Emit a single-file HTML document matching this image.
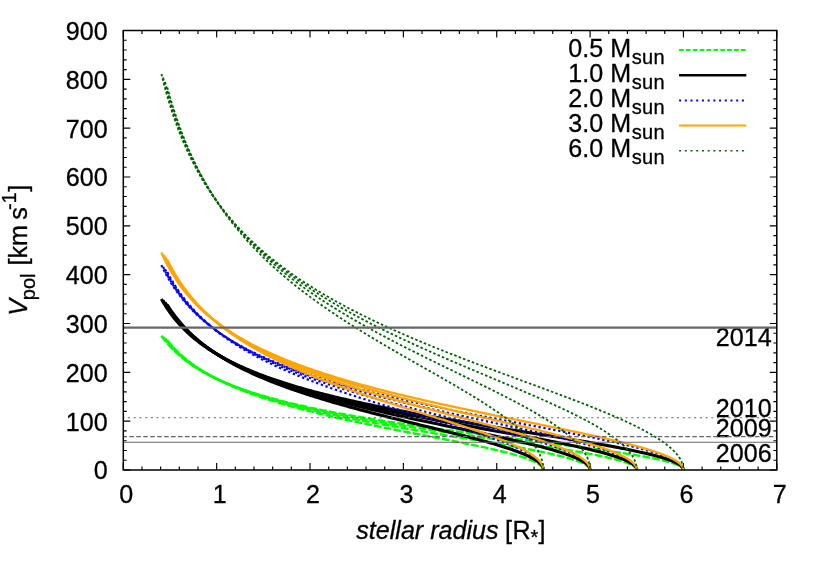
<!DOCTYPE html><html><head><meta charset="utf-8"><style>html,body{margin:0;padding:0;background:#fff}svg{display:block;will-change:transform}text{font-family:"Liberation Sans",sans-serif;fill:#000;stroke:#000;stroke-width:0.3px}</style></head><body>
<svg width="822" height="576" viewBox="0 0 822 576">
<rect width="822" height="576" fill="#fff"/>
<path d="M123.30 470.00h7.00 M776.80 470.00h-7.00 M123.30 460.23h3.40 M776.80 460.23h-3.40 M123.30 450.47h3.40 M776.80 450.47h-3.40 M123.30 440.70h3.40 M776.80 440.70h-3.40 M123.30 430.93h3.40 M776.80 430.93h-3.40 M123.30 421.17h7.00 M776.80 421.17h-7.00 M123.30 411.40h3.40 M776.80 411.40h-3.40 M123.30 401.63h3.40 M776.80 401.63h-3.40 M123.30 391.87h3.40 M776.80 391.87h-3.40 M123.30 382.10h3.40 M776.80 382.10h-3.40 M123.30 372.33h7.00 M776.80 372.33h-7.00 M123.30 362.57h3.40 M776.80 362.57h-3.40 M123.30 352.80h3.40 M776.80 352.80h-3.40 M123.30 343.03h3.40 M776.80 343.03h-3.40 M123.30 333.27h3.40 M776.80 333.27h-3.40 M123.30 323.50h7.00 M776.80 323.50h-7.00 M123.30 313.73h3.40 M776.80 313.73h-3.40 M123.30 303.97h3.40 M776.80 303.97h-3.40 M123.30 294.20h3.40 M776.80 294.20h-3.40 M123.30 284.43h3.40 M776.80 284.43h-3.40 M123.30 274.67h7.00 M776.80 274.67h-7.00 M123.30 264.90h3.40 M776.80 264.90h-3.40 M123.30 255.13h3.40 M776.80 255.13h-3.40 M123.30 245.37h3.40 M776.80 245.37h-3.40 M123.30 235.60h3.40 M776.80 235.60h-3.40 M123.30 225.83h7.00 M776.80 225.83h-7.00 M123.30 216.07h3.40 M776.80 216.07h-3.40 M123.30 206.30h3.40 M776.80 206.30h-3.40 M123.30 196.53h3.40 M776.80 196.53h-3.40 M123.30 186.77h3.40 M776.80 186.77h-3.40 M123.30 177.00h7.00 M776.80 177.00h-7.00 M123.30 167.23h3.40 M776.80 167.23h-3.40 M123.30 157.47h3.40 M776.80 157.47h-3.40 M123.30 147.70h3.40 M776.80 147.70h-3.40 M123.30 137.93h3.40 M776.80 137.93h-3.40 M123.30 128.17h7.00 M776.80 128.17h-7.00 M123.30 118.40h3.40 M776.80 118.40h-3.40 M123.30 108.63h3.40 M776.80 108.63h-3.40 M123.30 98.87h3.40 M776.80 98.87h-3.40 M123.30 89.10h3.40 M776.80 89.10h-3.40 M123.30 79.33h7.00 M776.80 79.33h-7.00 M123.30 69.57h3.40 M776.80 69.57h-3.40 M123.30 59.80h3.40 M776.80 59.80h-3.40 M123.30 50.03h3.40 M776.80 50.03h-3.40 M123.30 40.27h3.40 M776.80 40.27h-3.40 M123.30 30.50h7.00 M776.80 30.50h-7.00 M123.30 470.00v-7.00 M123.30 30.50v7.00 M141.97 470.00v-3.40 M141.97 30.50v3.40 M160.64 470.00v-3.40 M160.64 30.50v3.40 M179.31 470.00v-3.40 M179.31 30.50v3.40 M197.99 470.00v-3.40 M197.99 30.50v3.40 M216.66 470.00v-7.00 M216.66 30.50v7.00 M235.33 470.00v-3.40 M235.33 30.50v3.40 M254.00 470.00v-3.40 M254.00 30.50v3.40 M272.67 470.00v-3.40 M272.67 30.50v3.40 M291.34 470.00v-3.40 M291.34 30.50v3.40 M310.01 470.00v-7.00 M310.01 30.50v7.00 M328.69 470.00v-3.40 M328.69 30.50v3.40 M347.36 470.00v-3.40 M347.36 30.50v3.40 M366.03 470.00v-3.40 M366.03 30.50v3.40 M384.70 470.00v-3.40 M384.70 30.50v3.40 M403.37 470.00v-7.00 M403.37 30.50v7.00 M422.04 470.00v-3.40 M422.04 30.50v3.40 M440.71 470.00v-3.40 M440.71 30.50v3.40 M459.39 470.00v-3.40 M459.39 30.50v3.40 M478.06 470.00v-3.40 M478.06 30.50v3.40 M496.73 470.00v-7.00 M496.73 30.50v7.00 M515.40 470.00v-3.40 M515.40 30.50v3.40 M534.07 470.00v-3.40 M534.07 30.50v3.40 M552.74 470.00v-3.40 M552.74 30.50v3.40 M571.41 470.00v-3.40 M571.41 30.50v3.40 M590.09 470.00v-7.00 M590.09 30.50v7.00 M608.76 470.00v-3.40 M608.76 30.50v3.40 M627.43 470.00v-3.40 M627.43 30.50v3.40 M646.10 470.00v-3.40 M646.10 30.50v3.40 M664.77 470.00v-3.40 M664.77 30.50v3.40 M683.44 470.00v-7.00 M683.44 30.50v7.00 M702.11 470.00v-3.40 M702.11 30.50v3.40 M720.79 470.00v-3.40 M720.79 30.50v3.40 M739.46 470.00v-3.40 M739.46 30.50v3.40 M758.13 470.00v-3.40 M758.13 30.50v3.40 M776.80 470.00v-7.00 M776.80 30.50v7.00" stroke="#000" stroke-width="1.15" fill="none"/>
<text transform="translate(107.60,479.35) scale(1,1.045)" font-size="25.10" text-anchor="end">0</text>
<text transform="translate(107.60,430.52) scale(1,1.045)" font-size="25.10" text-anchor="end">100</text>
<text transform="translate(107.60,381.68) scale(1,1.045)" font-size="25.10" text-anchor="end">200</text>
<text transform="translate(107.60,332.85) scale(1,1.045)" font-size="25.10" text-anchor="end">300</text>
<text transform="translate(107.60,284.02) scale(1,1.045)" font-size="25.10" text-anchor="end">400</text>
<text transform="translate(107.60,235.18) scale(1,1.045)" font-size="25.10" text-anchor="end">500</text>
<text transform="translate(107.60,186.35) scale(1,1.045)" font-size="25.10" text-anchor="end">600</text>
<text transform="translate(107.60,137.52) scale(1,1.045)" font-size="25.10" text-anchor="end">700</text>
<text transform="translate(107.60,88.68) scale(1,1.045)" font-size="25.10" text-anchor="end">800</text>
<text transform="translate(107.60,39.85) scale(1,1.045)" font-size="25.10" text-anchor="end">900</text>
<text transform="translate(126.30,503.20) scale(1,1.045)" font-size="25.10" text-anchor="middle">0</text>
<text transform="translate(219.66,503.20) scale(1,1.045)" font-size="25.10" text-anchor="middle">1</text>
<text transform="translate(313.01,503.20) scale(1,1.045)" font-size="25.10" text-anchor="middle">2</text>
<text transform="translate(406.37,503.20) scale(1,1.045)" font-size="25.10" text-anchor="middle">3</text>
<text transform="translate(499.73,503.20) scale(1,1.045)" font-size="25.10" text-anchor="middle">4</text>
<text transform="translate(593.09,503.20) scale(1,1.045)" font-size="25.10" text-anchor="middle">5</text>
<text transform="translate(686.44,503.20) scale(1,1.045)" font-size="25.10" text-anchor="middle">6</text>
<text transform="translate(779.80,503.20) scale(1,1.045)" font-size="25.10" text-anchor="middle">7</text>
<text transform="translate(771.60,346.00) scale(1,1.045)" font-size="25.10" text-anchor="end">2014</text>
<text transform="translate(771.60,417.30) scale(1,1.045)" font-size="25.10" text-anchor="end">2010</text>
<text transform="translate(771.60,437.30) scale(1,1.045)" font-size="25.10" text-anchor="end">2009</text>
<text transform="translate(771.60,461.70) scale(1,1.045)" font-size="25.10" text-anchor="end">2006</text>
<g fill="none">
<path d="M167.31 340.26 L168.48 341.71 L169.65 343.13 L170.84 344.51 L172.03 345.86 L173.24 347.19 L174.46 348.48 L175.68 349.75 L176.92 350.99 L178.16 352.21 L179.42 353.40 L180.68 354.57 L181.95 355.72 L183.23 356.84 L184.53 357.95 L185.83 359.03 L187.14 360.09 L188.46 361.14 L189.78 362.17 L191.12 363.18 L192.47 364.17 L193.82 365.14 L195.18 366.10 L196.55 367.05 L197.93 367.98 L199.32 368.89 L200.72 369.79 L202.13 370.68 L203.54 371.56 L204.96 372.42 L206.39 373.27 L207.83 374.10 L209.28 374.93 L210.74 375.74 L212.20 376.55 L213.67 377.34 L215.15 378.12 L216.64 378.89 L218.14 379.65 L219.64 380.41 L221.15 381.15 L222.67 381.88 L224.20 382.61 L225.73 383.32 L227.27 384.03 L228.82 384.73 L230.38 385.42 L231.95 386.10 L233.52 386.78 L235.10 387.45 L236.69 388.11 L238.28 388.77 L239.89 389.41 L241.50 390.05 L243.11 390.69 L244.74 391.32 L246.37 391.94 L248.01 392.55 L249.66 393.16 L251.31 393.77 L252.97 394.37 L254.64 394.96 L256.32 395.55 L258.00 396.13 L259.69 396.71 L261.38 397.28 L263.09 397.85 L264.80 398.41 L266.51 398.97 L268.24 399.52 L269.97 400.07 L271.71 400.61 L273.45 401.15 L275.20 401.69 L276.96 402.22 L278.72 402.75 L280.50 403.27 L282.27 403.79 L284.06 404.31 L285.85 404.82 L287.65 405.33 L289.45 405.84 L291.26 406.34 L293.08 406.84 L294.91 407.34 L296.74 407.83 L298.57 408.32 L300.42 408.81 L302.27 409.29 L304.12 409.78 L305.99 410.26 L307.86 410.73 L309.73 411.20 L311.61 411.68 L313.50 412.14 L315.40 412.61 L317.30 413.07 L319.20 413.54 L321.12 413.99 L323.03 414.45 L324.96 414.91 L326.89 415.36 L328.83 415.81 L330.77 416.26 L332.72 416.71 L334.68 417.15 L336.64 417.60 L338.61 418.04 L340.58 418.48 L342.56 418.92 L344.55 419.35 L346.54 419.79 L348.54 420.22 L350.54 420.66 L352.55 421.09 L354.57 421.52 L356.59 421.95 L358.62 422.37 L360.65 422.80 L362.69 423.23 L364.73 423.65 L366.78 424.08 L368.84 424.50 L370.90 424.92 L372.97 425.34 L375.04 425.76 L377.12 426.18 L379.21 426.60 L381.30 427.02 L383.40 427.44 L385.50 427.86 L387.60 428.28 L389.72 428.69 L391.84 429.11 L393.96 429.53 L396.09 429.95 L398.23 430.36 L400.37 430.78 L402.51 431.20 L404.67 431.62 L406.82 432.03 L408.99 432.45 L411.16 432.87 L413.33 433.29 L415.51 433.71 L417.69 434.13 L419.89 434.55 L422.08 434.98 L424.28 435.40 L426.49 435.82 L428.70 436.25 L430.92 436.67 L433.14 437.10 L435.37 437.53 L437.60 437.96 L439.84 438.40 L442.08 438.83 L444.33 439.27 L446.59 439.71 L448.85 440.15 L451.11 440.59 L453.38 441.04 L455.66 441.49 L457.94 441.94 L460.22 442.39 L462.51 442.85 L464.81 443.31 L467.11 443.78 L469.42 444.25 L471.73 444.73 L474.05 445.21 L476.37 445.69 L478.69 446.18 L481.03 446.68 L483.36 447.18 L485.71 447.69 L488.05 448.21 L490.40 448.73 L492.76 449.26 L495.12 449.81 L497.49 450.36 L499.86 450.92 L502.24 451.50 L504.62 452.09 L507.01 452.69 L509.40 453.32 L511.80 453.96 L514.20 454.62 L516.61 455.30 L519.02 456.01 L519.14 456.05 L519.38 456.12 L519.62 456.20 L519.86 456.27 L520.10 456.34 L520.33 456.41 L520.57 456.49 L520.80 456.56 L521.04 456.63 L521.27 456.71 L521.44 456.76 L521.50 456.78 L521.73 456.85 L521.95 456.92 L522.18 456.99 L522.41 457.07 L522.63 457.14 L522.85 457.21 L523.08 457.28 L523.30 457.36 L523.52 457.43 L523.74 457.50 L523.86 457.54 L523.95 457.57 L524.17 457.64 L524.38 457.72 L524.60 457.79 L524.81 457.86 L525.02 457.93 L525.23 458.00 L525.44 458.08 L525.65 458.15 L525.86 458.22 L526.06 458.29 L526.27 458.36 L526.29 458.37 L526.47 458.43 L526.67 458.51 L526.87 458.58 L527.07 458.65 L527.27 458.72 L527.47 458.79 L527.67 458.86 L527.86 458.94 L528.05 459.01 L528.25 459.08 L528.44 459.15 L528.63 459.22 L528.72 459.25 L528.82 459.29 L529.00 459.36 L529.19 459.43 L529.38 459.50 L529.56 459.58 L529.74 459.65 L529.93 459.72 L530.11 459.79 L530.29 459.86 L530.46 459.93 L530.64 460.00 L530.82 460.07 L530.99 460.14 L531.15 460.21 L531.16 460.21 L531.34 460.29 L531.51 460.36 L531.68 460.43 L531.85 460.50 L532.01 460.57 L532.18 460.64 L532.34 460.71 L532.51 460.78 L532.67 460.85 L532.83 460.92 L532.99 460.99 L533.15 461.06 L533.31 461.13 L533.47 461.20 L533.59 461.26 L533.62 461.27 L533.78 461.34 L533.93 461.41 L534.08 461.48 L534.23 461.55 L534.38 461.62 L534.53 461.69 L534.67 461.76 L534.82 461.83 L534.96 461.90 L535.11 461.98 L535.25 462.05 L535.39 462.12 L535.53 462.19 L535.67 462.26 L535.81 462.33 L535.94 462.40 L536.04 462.45 L536.08 462.47 L536.21 462.54 L536.34 462.61 L536.47 462.67 L536.60 462.74 L536.73 462.81 L536.86 462.88 L536.99 462.95 L537.11 463.02 L537.23 463.09 L537.36 463.16 L537.48 463.23 L537.60 463.30 L537.72 463.37 L537.83 463.44 L537.95 463.51 L538.07 463.58 L538.18 463.65 L538.29 463.72 L538.40 463.79 L538.49 463.84 L538.51 463.86 L538.62 463.93 L538.73 464.00 L538.84 464.07 L538.94 464.14 L539.05 464.21 L539.15 464.28 L539.25 464.35 L539.35 464.42 L539.45 464.48 L539.55 464.55 L539.65 464.62 L539.74 464.69 L539.84 464.76 L539.93 464.83 L540.02 464.90 L540.11 464.97 L540.20 465.04 L540.29 465.11 L540.38 465.18 L540.46 465.25 L540.55 465.32 L540.63 465.39 L540.71 465.45 L540.80 465.52 L540.87 465.59 L540.95 465.66 L540.95 465.66 L541.03 465.73 L541.11 465.80 L541.18 465.87 L541.25 465.94 L541.33 466.01 L541.40 466.08 L541.47 466.15 L541.54 466.21 L541.60 466.28 L541.67 466.35 L541.73 466.42 L541.80 466.49 L541.86 466.56 L541.92 466.63 L541.98 466.70 L542.04 466.77 L542.10 466.84 L542.15 466.90 L542.21 466.97 L542.26 467.04 L542.32 467.11 L542.37 467.18 L542.42 467.25 L542.47 467.32 L542.51 467.39 L542.56 467.46 L542.61 467.52 L542.65 467.59 L542.69 467.66 L542.73 467.73 L542.77 467.80 L542.81 467.87 L542.85 467.94 L542.89 468.01 L542.92 468.08 L542.96 468.14 L542.99 468.21 L543.02 468.28 L543.05 468.35 L543.08 468.42 L543.11 468.49 L543.13 468.56 L543.16 468.63 L543.18 468.69 L543.21 468.76 L543.23 468.83 L543.25 468.90 L543.27 468.97 L543.29 469.04 L543.30 469.11 L543.32 469.18 L543.33 469.24 L543.35 469.31 L543.36 469.38 L543.37 469.45 L543.38 469.52 L543.38 469.59 L543.39 469.66 L543.40 469.73 L543.40 469.79 L543.40 469.86 L543.41 469.93 L543.41 470.00" stroke="#00ff00" stroke-width="2.4" stroke-dasharray="7.7 2.2" stroke-linejoin="round"/>
<path d="M165.05 338.42 L166.32 340.05 L167.59 341.64 L168.88 343.18 L170.19 344.69 L171.50 346.16 L172.83 347.59 L174.17 348.99 L175.52 350.35 L176.88 351.69 L178.25 352.99 L179.64 354.27 L181.03 355.51 L182.44 356.73 L183.86 357.93 L185.29 359.10 L186.73 360.24 L188.19 361.37 L189.65 362.47 L191.12 363.55 L192.61 364.61 L194.10 365.65 L195.61 366.67 L197.13 367.67 L198.66 368.66 L200.19 369.63 L201.74 370.58 L203.30 371.51 L204.87 372.43 L206.45 373.34 L208.04 374.23 L209.63 375.11 L211.24 375.97 L212.86 376.82 L214.49 377.66 L216.13 378.48 L217.78 379.29 L219.43 380.10 L221.10 380.89 L222.78 381.67 L224.46 382.43 L226.16 383.19 L227.86 383.94 L229.58 384.68 L231.30 385.41 L233.03 386.13 L234.78 386.84 L236.53 387.54 L238.29 388.23 L240.06 388.92 L241.83 389.59 L243.62 390.26 L245.42 390.92 L247.22 391.58 L249.03 392.22 L250.86 392.86 L252.69 393.50 L254.53 394.12 L256.38 394.74 L258.23 395.35 L260.10 395.96 L261.97 396.56 L263.85 397.16 L265.75 397.75 L267.64 398.33 L269.55 398.91 L271.47 399.48 L273.39 400.05 L275.32 400.61 L277.27 401.16 L279.21 401.72 L281.17 402.26 L283.14 402.81 L285.11 403.35 L287.09 403.88 L289.08 404.41 L291.08 404.93 L293.08 405.46 L295.10 405.97 L297.12 406.49 L299.15 407.00 L301.18 407.50 L303.23 408.00 L305.28 408.50 L307.34 409.00 L309.41 409.49 L311.48 409.98 L313.57 410.46 L315.66 410.94 L317.76 411.42 L319.86 411.90 L321.98 412.37 L324.10 412.84 L326.23 413.31 L328.36 413.77 L330.51 414.23 L332.66 414.69 L334.81 415.15 L336.98 415.61 L339.15 416.06 L341.33 416.51 L343.52 416.96 L345.72 417.40 L347.92 417.84 L350.13 418.29 L352.34 418.73 L354.57 419.16 L356.80 419.60 L359.04 420.03 L361.28 420.46 L363.53 420.89 L365.79 421.32 L368.06 421.75 L370.33 422.18 L372.61 422.60 L374.90 423.02 L377.19 423.44 L379.50 423.87 L381.80 424.28 L384.12 424.70 L386.44 425.12 L388.77 425.53 L391.10 425.95 L393.45 426.36 L395.80 426.78 L398.15 427.19 L400.51 427.60 L402.88 428.01 L405.26 428.42 L407.64 428.83 L410.03 429.24 L412.43 429.65 L414.83 430.06 L417.24 430.46 L419.66 430.87 L422.08 431.28 L424.51 431.69 L426.94 432.09 L429.39 432.50 L431.83 432.91 L434.29 433.31 L436.75 433.72 L439.22 434.13 L441.69 434.54 L444.17 434.95 L446.66 435.36 L449.16 435.77 L451.66 436.18 L454.16 436.59 L456.68 437.00 L459.19 437.42 L461.72 437.83 L464.25 438.25 L466.79 438.66 L469.33 439.08 L471.89 439.50 L474.44 439.92 L477.01 440.35 L479.57 440.77 L482.15 441.20 L484.73 441.63 L487.32 442.06 L489.91 442.50 L492.51 442.94 L495.12 443.38 L497.73 443.82 L500.35 444.27 L502.97 444.72 L505.61 445.18 L508.24 445.64 L510.88 446.10 L513.53 446.57 L516.19 447.04 L518.85 447.52 L521.51 448.01 L524.19 448.50 L526.87 449.00 L529.55 449.51 L532.24 450.02 L534.94 450.55 L537.64 451.08 L540.35 451.63 L543.06 452.18 L545.78 452.75 L548.51 453.33 L551.24 453.93 L553.98 454.55 L556.72 455.19 L559.47 455.85 L562.22 456.54 L562.36 456.57 L562.64 456.64 L562.91 456.71 L563.18 456.78 L563.45 456.85 L563.72 456.92 L563.99 456.99 L564.26 457.06 L564.52 457.13 L564.79 457.20 L564.98 457.25 L565.05 457.27 L565.31 457.34 L565.57 457.41 L565.83 457.48 L566.09 457.55 L566.35 457.62 L566.60 457.69 L566.86 457.76 L567.11 457.83 L567.36 457.90 L567.61 457.97 L567.75 458.01 L567.86 458.04 L568.11 458.11 L568.35 458.18 L568.60 458.25 L568.84 458.32 L569.08 458.38 L569.32 458.45 L569.56 458.52 L569.80 458.59 L570.03 458.66 L570.27 458.73 L570.50 458.80 L570.52 458.81 L570.73 458.87 L570.96 458.94 L571.19 459.01 L571.42 459.07 L571.65 459.14 L571.87 459.21 L572.10 459.28 L572.32 459.35 L572.54 459.42 L572.76 459.49 L572.98 459.56 L573.20 459.62 L573.30 459.66 L573.41 459.69 L573.63 459.76 L573.84 459.83 L574.05 459.90 L574.26 459.97 L574.47 460.04 L574.68 460.10 L574.89 460.17 L575.09 460.24 L575.30 460.31 L575.50 460.38 L575.70 460.45 L575.90 460.51 L576.08 460.58 L576.10 460.58 L576.29 460.65 L576.49 460.72 L576.68 460.79 L576.87 460.85 L577.07 460.92 L577.26 460.99 L577.44 461.06 L577.63 461.13 L577.82 461.19 L578.00 461.26 L578.18 461.33 L578.37 461.40 L578.55 461.47 L578.73 461.53 L578.87 461.59 L578.90 461.60 L579.08 461.67 L579.25 461.74 L579.43 461.80 L579.60 461.87 L579.77 461.94 L579.94 462.01 L580.11 462.07 L580.27 462.14 L580.44 462.21 L580.60 462.28 L580.76 462.34 L580.92 462.41 L581.08 462.48 L581.24 462.55 L581.40 462.61 L581.55 462.68 L581.67 462.73 L581.71 462.75 L581.86 462.82 L582.01 462.88 L582.16 462.95 L582.31 463.02 L582.46 463.09 L582.60 463.15 L582.75 463.22 L582.89 463.29 L583.03 463.35 L583.17 463.42 L583.31 463.49 L583.45 463.56 L583.58 463.62 L583.72 463.69 L583.85 463.76 L583.98 463.82 L584.11 463.89 L584.24 463.96 L584.37 464.02 L584.47 464.08 L584.49 464.09 L584.62 464.16 L584.74 464.23 L584.86 464.29 L584.99 464.36 L585.10 464.43 L585.22 464.49 L585.34 464.56 L585.45 464.63 L585.57 464.69 L585.68 464.76 L585.79 464.83 L585.90 464.89 L586.01 464.96 L586.11 465.03 L586.22 465.09 L586.32 465.16 L586.42 465.23 L586.53 465.29 L586.62 465.36 L586.72 465.43 L586.82 465.49 L586.91 465.56 L587.01 465.63 L587.10 465.69 L587.19 465.76 L587.27 465.82 L587.28 465.83 L587.37 465.89 L587.46 465.96 L587.54 466.03 L587.63 466.09 L587.71 466.16 L587.79 466.22 L587.87 466.29 L587.95 466.36 L588.02 466.42 L588.10 466.49 L588.17 466.56 L588.25 466.62 L588.32 466.69 L588.39 466.76 L588.46 466.82 L588.52 466.89 L588.59 466.96 L588.65 467.02 L588.72 467.09 L588.78 467.15 L588.84 467.22 L588.90 467.29 L588.95 467.35 L589.01 467.42 L589.06 467.49 L589.12 467.55 L589.17 467.62 L589.22 467.68 L589.27 467.75 L589.32 467.82 L589.36 467.88 L589.41 467.95 L589.45 468.02 L589.49 468.08 L589.53 468.15 L589.57 468.21 L589.61 468.28 L589.64 468.35 L589.68 468.41 L589.71 468.48 L589.74 468.55 L589.77 468.61 L589.80 468.68 L589.83 468.74 L589.86 468.81 L589.88 468.88 L589.90 468.94 L589.93 469.01 L589.95 469.07 L589.97 469.14 L589.98 469.21 L590.00 469.27 L590.01 469.34 L590.03 469.40 L590.04 469.47 L590.05 469.54 L590.06 469.60 L590.07 469.67 L590.07 469.74 L590.08 469.80 L590.08 469.87 L590.09 469.93 L590.09 470.00" stroke="#00ff00" stroke-width="2.4" stroke-dasharray="7.7 2.2" stroke-linejoin="round"/>
<path d="M163.11 336.93 L164.47 338.75 L165.84 340.50 L167.23 342.21 L168.63 343.86 L170.05 345.47 L171.48 347.03 L172.92 348.55 L174.38 350.04 L175.86 351.48 L177.35 352.89 L178.85 354.26 L180.36 355.60 L181.89 356.91 L183.44 358.19 L184.99 359.43 L186.56 360.65 L188.14 361.85 L189.74 363.01 L191.35 364.16 L192.97 365.28 L194.60 366.37 L196.25 367.45 L197.91 368.50 L199.58 369.54 L201.26 370.55 L202.96 371.54 L204.66 372.52 L206.38 373.48 L208.11 374.42 L209.86 375.35 L211.61 376.26 L213.38 377.15 L215.16 378.03 L216.95 378.90 L218.75 379.75 L220.56 380.59 L222.39 381.41 L224.22 382.22 L226.07 383.02 L227.93 383.81 L229.80 384.59 L231.68 385.36 L233.57 386.11 L235.47 386.86 L237.38 387.59 L239.30 388.31 L241.24 389.03 L243.18 389.73 L245.14 390.43 L247.10 391.12 L249.08 391.80 L251.07 392.47 L253.06 393.13 L255.07 393.79 L257.09 394.43 L259.12 395.07 L261.15 395.70 L263.20 396.33 L265.26 396.95 L267.33 397.56 L269.41 398.16 L271.49 398.76 L273.59 399.35 L275.70 399.94 L277.82 400.52 L279.94 401.10 L282.08 401.66 L284.23 402.23 L286.38 402.79 L288.55 403.34 L290.72 403.89 L292.91 404.43 L295.10 404.97 L297.30 405.50 L299.51 406.03 L301.74 406.55 L303.97 407.07 L306.21 407.59 L308.46 408.10 L310.71 408.61 L312.98 409.11 L315.26 409.61 L317.54 410.10 L319.84 410.59 L322.14 411.08 L324.46 411.57 L326.78 412.05 L329.11 412.53 L331.45 413.00 L333.80 413.47 L336.15 413.94 L338.52 414.41 L340.89 414.87 L343.27 415.33 L345.67 415.78 L348.07 416.24 L350.47 416.69 L352.89 417.14 L355.32 417.59 L357.75 418.03 L360.19 418.47 L362.65 418.91 L365.11 419.35 L367.57 419.78 L370.05 420.21 L372.53 420.64 L375.03 421.07 L377.53 421.50 L380.04 421.93 L382.55 422.35 L385.08 422.77 L387.61 423.19 L390.16 423.61 L392.71 424.02 L395.26 424.44 L397.83 424.85 L400.40 425.26 L402.99 425.68 L405.58 426.08 L408.17 426.49 L410.78 426.90 L413.39 427.31 L416.02 427.71 L418.65 428.12 L421.28 428.52 L423.93 428.92 L426.58 429.32 L429.24 429.72 L431.91 430.12 L434.59 430.52 L437.27 430.92 L439.96 431.32 L442.66 431.72 L445.37 432.12 L448.08 432.52 L450.80 432.91 L453.53 433.31 L456.27 433.71 L459.02 434.10 L461.77 434.50 L464.53 434.90 L467.30 435.30 L470.07 435.69 L472.85 436.09 L475.64 436.49 L478.44 436.89 L481.24 437.29 L484.05 437.69 L486.87 438.09 L489.70 438.49 L492.53 438.90 L495.37 439.30 L498.22 439.71 L501.08 440.11 L503.94 440.52 L506.81 440.93 L509.68 441.34 L512.57 441.76 L515.46 442.17 L518.36 442.59 L521.26 443.01 L524.17 443.43 L527.09 443.85 L530.02 444.28 L532.95 444.71 L535.89 445.15 L538.84 445.58 L541.80 446.03 L544.76 446.47 L547.73 446.92 L550.70 447.37 L553.68 447.83 L556.67 448.30 L559.67 448.77 L562.67 449.25 L565.68 449.73 L568.70 450.22 L571.72 450.72 L574.75 451.22 L577.79 451.74 L580.83 452.27 L583.88 452.80 L586.94 453.35 L590.00 453.92 L593.08 454.50 L596.15 455.09 L599.24 455.71 L602.33 456.35 L605.43 457.01 L605.58 457.04 L605.89 457.11 L606.20 457.18 L606.50 457.25 L606.81 457.32 L607.11 457.38 L607.41 457.45 L607.71 457.52 L608.01 457.59 L608.31 457.65 L608.53 457.70 L608.61 457.72 L608.90 457.79 L609.19 457.86 L609.49 457.92 L609.78 457.99 L610.06 458.06 L610.35 458.13 L610.64 458.19 L610.92 458.26 L611.20 458.33 L611.48 458.39 L611.64 458.43 L611.76 458.46 L612.04 458.53 L612.32 458.60 L612.59 458.66 L612.86 458.73 L613.14 458.80 L613.41 458.86 L613.68 458.93 L613.94 459.00 L614.21 459.06 L614.47 459.13 L614.74 459.20 L614.76 459.20 L615.00 459.26 L615.26 459.33 L615.51 459.40 L615.77 459.46 L616.03 459.53 L616.28 459.60 L616.53 459.66 L616.78 459.73 L617.03 459.79 L617.28 459.86 L617.52 459.93 L617.77 459.99 L617.88 460.02 L618.01 460.06 L618.25 460.13 L618.49 460.19 L618.73 460.26 L618.97 460.32 L619.20 460.39 L619.44 460.46 L619.67 460.52 L619.90 460.59 L620.13 460.65 L620.35 460.72 L620.58 460.79 L620.80 460.85 L621.01 460.91 L621.03 460.92 L621.25 460.98 L621.47 461.05 L621.69 461.11 L621.90 461.18 L622.12 461.25 L622.33 461.31 L622.54 461.38 L622.75 461.44 L622.96 461.51 L623.17 461.57 L623.38 461.64 L623.58 461.70 L623.78 461.77 L623.99 461.83 L624.15 461.89 L624.18 461.90 L624.38 461.97 L624.58 462.03 L624.77 462.10 L624.97 462.16 L625.16 462.23 L625.35 462.29 L625.54 462.36 L625.73 462.42 L625.91 462.49 L626.10 462.55 L626.28 462.62 L626.46 462.68 L626.64 462.75 L626.82 462.81 L626.99 462.88 L627.17 462.94 L627.29 462.99 L627.34 463.01 L627.51 463.07 L627.68 463.14 L627.85 463.20 L628.02 463.27 L628.18 463.33 L628.35 463.40 L628.51 463.46 L628.67 463.53 L628.83 463.59 L628.99 463.66 L629.14 463.72 L629.30 463.79 L629.45 463.85 L629.60 463.91 L629.75 463.98 L629.90 464.04 L630.04 464.11 L630.19 464.17 L630.33 464.24 L630.44 464.29 L630.47 464.30 L630.62 464.37 L630.75 464.43 L630.89 464.50 L631.03 464.56 L631.16 464.62 L631.29 464.69 L631.42 464.75 L631.55 464.82 L631.68 464.88 L631.81 464.95 L631.93 465.01 L632.05 465.08 L632.18 465.14 L632.30 465.20 L632.41 465.27 L632.53 465.33 L632.65 465.40 L632.76 465.46 L632.87 465.53 L632.98 465.59 L633.09 465.65 L633.20 465.72 L633.30 465.78 L633.41 465.85 L633.51 465.91 L633.60 465.97 L633.61 465.98 L633.71 466.04 L633.81 466.10 L633.90 466.17 L634.00 466.23 L634.09 466.30 L634.18 466.36 L634.27 466.42 L634.36 466.49 L634.45 466.55 L634.53 466.62 L634.61 466.68 L634.70 466.74 L634.78 466.81 L634.86 466.87 L634.93 466.94 L635.01 467.00 L635.08 467.06 L635.15 467.13 L635.22 467.19 L635.29 467.26 L635.36 467.32 L635.43 467.38 L635.49 467.45 L635.55 467.51 L635.62 467.58 L635.68 467.64 L635.73 467.70 L635.79 467.77 L635.84 467.83 L635.90 467.89 L635.95 467.96 L636.00 468.02 L636.05 468.09 L636.10 468.15 L636.14 468.21 L636.18 468.28 L636.23 468.34 L636.27 468.41 L636.31 468.47 L636.34 468.53 L636.38 468.60 L636.41 468.66 L636.45 468.72 L636.48 468.79 L636.51 468.85 L636.53 468.92 L636.56 468.98 L636.59 469.04 L636.61 469.11 L636.63 469.17 L636.65 469.23 L636.67 469.30 L636.68 469.36 L636.70 469.43 L636.71 469.49 L636.73 469.55 L636.74 469.62 L636.74 469.68 L636.75 469.74 L636.76 469.81 L636.76 469.87 L636.76 469.94 L636.76 470.00" stroke="#00ff00" stroke-width="2.4" stroke-dasharray="7.7 2.2" stroke-linejoin="round"/>
<path d="M161.41 335.71 L162.86 337.70 L164.32 339.62 L165.80 341.48 L167.30 343.28 L168.82 345.02 L170.35 346.72 L171.90 348.36 L173.46 349.95 L175.05 351.50 L176.64 353.00 L178.26 354.47 L179.89 355.89 L181.54 357.28 L183.20 358.63 L184.88 359.95 L186.57 361.24 L188.28 362.50 L190.00 363.72 L191.74 364.92 L193.49 366.09 L195.26 367.24 L197.04 368.36 L198.84 369.46 L200.65 370.53 L202.48 371.59 L204.32 372.62 L206.17 373.63 L208.04 374.62 L209.92 375.60 L211.82 376.55 L213.73 377.49 L215.65 378.41 L217.59 379.31 L219.53 380.20 L221.50 381.07 L223.47 381.93 L225.46 382.78 L227.46 383.61 L229.48 384.42 L231.51 385.23 L233.55 386.02 L235.60 386.80 L237.66 387.57 L239.74 388.32 L241.83 389.07 L243.94 389.80 L246.05 390.53 L248.18 391.24 L250.32 391.94 L252.47 392.64 L254.63 393.33 L256.81 394.00 L259.00 394.67 L261.20 395.33 L263.41 395.98 L265.63 396.62 L267.86 397.26 L270.11 397.89 L272.37 398.51 L274.64 399.12 L276.92 399.73 L279.21 400.33 L281.51 400.92 L283.83 401.51 L286.15 402.09 L288.49 402.66 L290.83 403.23 L293.19 403.80 L295.56 404.35 L297.94 404.90 L300.33 405.45 L302.74 405.99 L305.15 406.53 L307.57 407.06 L310.01 407.58 L312.45 408.10 L314.91 408.62 L317.37 409.13 L319.85 409.64 L322.34 410.14 L324.83 410.64 L327.34 411.14 L329.86 411.63 L332.39 412.12 L334.93 412.60 L337.47 413.08 L340.03 413.56 L342.60 414.03 L345.18 414.50 L347.77 414.96 L350.37 415.43 L352.98 415.89 L355.60 416.34 L358.23 416.80 L360.86 417.25 L363.51 417.70 L366.17 418.14 L368.84 418.58 L371.52 419.02 L374.20 419.46 L376.90 419.90 L379.61 420.33 L382.32 420.76 L385.05 421.19 L387.78 421.61 L390.53 422.03 L393.28 422.46 L396.05 422.88 L398.82 423.29 L401.60 423.71 L404.39 424.12 L407.19 424.53 L410.00 424.94 L412.82 425.35 L415.65 425.76 L418.49 426.17 L421.33 426.57 L424.19 426.97 L427.05 427.37 L429.93 427.77 L432.81 428.17 L435.70 428.57 L438.60 428.97 L441.51 429.36 L444.43 429.76 L447.36 430.15 L450.30 430.54 L453.24 430.93 L456.19 431.33 L459.16 431.72 L462.13 432.11 L465.11 432.49 L468.10 432.88 L471.09 433.27 L474.10 433.66 L477.11 434.05 L480.14 434.44 L483.17 434.82 L486.21 435.21 L489.26 435.60 L492.32 435.98 L495.38 436.37 L498.46 436.76 L501.54 437.15 L504.63 437.54 L507.73 437.92 L510.84 438.31 L513.95 438.70 L517.08 439.09 L520.21 439.48 L523.35 439.88 L526.50 440.27 L529.66 440.66 L532.82 441.06 L536.00 441.46 L539.18 441.86 L542.37 442.26 L545.57 442.66 L548.77 443.06 L551.99 443.47 L555.21 443.87 L558.44 444.28 L561.68 444.70 L564.92 445.11 L568.18 445.53 L571.44 445.95 L574.71 446.38 L577.99 446.80 L581.28 447.24 L584.57 447.67 L587.87 448.11 L591.18 448.56 L594.50 449.01 L597.82 449.46 L601.16 449.93 L604.50 450.39 L607.85 450.87 L611.20 451.35 L614.57 451.84 L617.94 452.34 L621.32 452.85 L624.71 453.37 L628.10 453.91 L631.50 454.45 L634.91 455.01 L638.33 455.59 L641.76 456.19 L645.19 456.80 L648.63 457.44 L648.80 457.48 L649.14 457.54 L649.49 457.61 L649.83 457.67 L650.17 457.74 L650.50 457.81 L650.84 457.87 L651.17 457.94 L651.50 458.00 L651.83 458.07 L652.08 458.11 L652.16 458.13 L652.49 458.20 L652.81 458.26 L653.14 458.33 L653.46 458.39 L653.78 458.46 L654.10 458.52 L654.42 458.59 L654.73 458.65 L655.05 458.72 L655.36 458.78 L655.53 458.82 L655.67 458.85 L655.98 458.91 L656.28 458.98 L656.59 459.04 L656.89 459.11 L657.19 459.17 L657.49 459.24 L657.79 459.30 L658.09 459.36 L658.38 459.43 L658.68 459.49 L658.97 459.56 L658.99 459.56 L659.26 459.62 L659.55 459.69 L659.83 459.75 L660.12 459.82 L660.40 459.88 L660.68 459.94 L660.96 460.01 L661.24 460.07 L661.52 460.14 L661.79 460.20 L662.07 460.26 L662.34 460.33 L662.47 460.36 L662.61 460.39 L662.88 460.46 L663.14 460.52 L663.41 460.58 L663.67 460.65 L663.93 460.71 L664.19 460.78 L664.45 460.84 L664.70 460.90 L664.96 460.97 L665.21 461.03 L665.46 461.09 L665.71 461.16 L665.94 461.22 L665.96 461.22 L666.21 461.29 L666.45 461.35 L666.69 461.41 L666.93 461.48 L667.17 461.54 L667.41 461.60 L667.64 461.67 L667.88 461.73 L668.11 461.79 L668.34 461.86 L668.57 461.92 L668.80 461.98 L669.02 462.05 L669.24 462.11 L669.43 462.16 L669.47 462.17 L669.69 462.24 L669.90 462.30 L670.12 462.36 L670.34 462.42 L670.55 462.49 L670.76 462.55 L670.97 462.61 L671.18 462.68 L671.38 462.74 L671.59 462.80 L671.79 462.87 L671.99 462.93 L672.19 462.99 L672.39 463.05 L672.59 463.12 L672.78 463.18 L672.92 463.23 L672.97 463.24 L673.16 463.31 L673.35 463.37 L673.54 463.43 L673.72 463.49 L673.91 463.56 L674.09 463.62 L674.27 463.68 L674.45 463.74 L674.63 463.81 L674.80 463.87 L674.97 463.93 L675.15 463.99 L675.32 464.06 L675.48 464.12 L675.65 464.18 L675.81 464.24 L675.98 464.31 L676.14 464.37 L676.30 464.43 L676.42 464.48 L676.45 464.49 L676.61 464.56 L676.76 464.62 L676.92 464.68 L677.07 464.74 L677.22 464.81 L677.36 464.87 L677.51 464.93 L677.65 464.99 L677.79 465.06 L677.93 465.12 L678.07 465.18 L678.21 465.24 L678.34 465.30 L678.48 465.37 L678.61 465.43 L678.74 465.49 L678.87 465.55 L678.99 465.61 L679.12 465.68 L679.24 465.74 L679.36 465.80 L679.48 465.86 L679.60 465.92 L679.71 465.99 L679.83 466.05 L679.93 466.11 L679.94 466.11 L680.05 466.17 L680.16 466.23 L680.26 466.30 L680.37 466.36 L680.47 466.42 L680.57 466.48 L680.67 466.54 L680.77 466.61 L680.87 466.67 L680.96 466.73 L681.05 466.79 L681.15 466.85 L681.23 466.92 L681.32 466.98 L681.41 467.04 L681.49 467.10 L681.57 467.16 L681.65 467.22 L681.73 467.29 L681.81 467.35 L681.88 467.41 L681.96 467.47 L682.03 467.53 L682.10 467.60 L682.17 467.66 L682.23 467.72 L682.30 467.78 L682.36 467.84 L682.42 467.90 L682.48 467.97 L682.54 468.03 L682.59 468.09 L682.65 468.15 L682.70 468.21 L682.75 468.27 L682.80 468.34 L682.85 468.40 L682.89 468.46 L682.93 468.52 L682.98 468.58 L683.02 468.64 L683.05 468.71 L683.09 468.77 L683.12 468.83 L683.16 468.89 L683.19 468.95 L683.22 469.01 L683.24 469.08 L683.27 469.14 L683.29 469.20 L683.32 469.26 L683.34 469.32 L683.35 469.38 L683.37 469.45 L683.39 469.51 L683.40 469.57 L683.41 469.63 L683.42 469.69 L683.43 469.75 L683.43 469.82 L683.44 469.88 L683.44 469.94 L683.44 470.00" stroke="#00ff00" stroke-width="2.4" stroke-dasharray="7.7 2.2" stroke-linejoin="round"/>
<path d="M167.31 304.88 L168.48 306.72 L169.65 308.53 L170.84 310.29 L172.03 312.01 L173.24 313.69 L174.46 315.34 L175.68 316.96 L176.92 318.54 L178.16 320.09 L179.42 321.60 L180.68 323.09 L181.95 324.55 L183.23 325.98 L184.53 327.39 L185.83 328.76 L187.14 330.12 L188.46 331.45 L189.78 332.76 L191.12 334.04 L192.47 335.30 L193.82 336.55 L195.18 337.77 L196.55 338.97 L197.93 340.15 L199.32 341.32 L200.72 342.47 L202.13 343.60 L203.54 344.71 L204.96 345.80 L206.39 346.89 L207.83 347.95 L209.28 349.00 L210.74 350.04 L212.20 351.06 L213.67 352.07 L215.15 353.06 L216.64 354.04 L218.14 355.01 L219.64 355.97 L221.15 356.92 L222.67 357.85 L224.20 358.77 L225.73 359.68 L227.27 360.58 L228.82 361.47 L230.38 362.35 L231.95 363.22 L233.52 364.08 L235.10 364.94 L236.69 365.78 L238.28 366.61 L239.89 367.44 L241.50 368.25 L243.11 369.06 L244.74 369.86 L246.37 370.65 L248.01 371.43 L249.66 372.21 L251.31 372.98 L252.97 373.74 L254.64 374.49 L256.32 375.24 L258.00 375.98 L259.69 376.72 L261.38 377.45 L263.09 378.17 L264.80 378.88 L266.51 379.59 L268.24 380.30 L269.97 381.00 L271.71 381.69 L273.45 382.38 L275.20 383.06 L276.96 383.74 L278.72 384.41 L280.50 385.08 L282.27 385.74 L284.06 386.40 L285.85 387.05 L287.65 387.70 L289.45 388.34 L291.26 388.98 L293.08 389.62 L294.91 390.25 L296.74 390.88 L298.57 391.50 L300.42 392.12 L302.27 392.74 L304.12 393.35 L305.99 393.96 L307.86 394.57 L309.73 395.17 L311.61 395.77 L313.50 396.37 L315.40 396.96 L317.30 397.55 L319.20 398.14 L321.12 398.72 L323.03 399.30 L324.96 399.88 L326.89 400.46 L328.83 401.03 L330.77 401.60 L332.72 402.17 L334.68 402.74 L336.64 403.30 L338.61 403.87 L340.58 404.43 L342.56 404.98 L344.55 405.54 L346.54 406.09 L348.54 406.65 L350.54 407.20 L352.55 407.75 L354.57 408.29 L356.59 408.84 L358.62 409.39 L360.65 409.93 L362.69 410.47 L364.73 411.01 L366.78 411.55 L368.84 412.09 L370.90 412.63 L372.97 413.16 L375.04 413.70 L377.12 414.23 L379.21 414.77 L381.30 415.30 L383.40 415.83 L385.50 416.37 L387.60 416.90 L389.72 417.43 L391.84 417.96 L393.96 418.49 L396.09 419.02 L398.23 419.55 L400.37 420.09 L402.51 420.62 L404.67 421.15 L406.82 421.68 L408.99 422.21 L411.16 422.75 L413.33 423.28 L415.51 423.81 L417.69 424.35 L419.89 424.89 L422.08 425.42 L424.28 425.96 L426.49 426.50 L428.70 427.04 L430.92 427.59 L433.14 428.13 L435.37 428.68 L437.60 429.23 L439.84 429.78 L442.08 430.33 L444.33 430.89 L446.59 431.44 L448.85 432.01 L451.11 432.57 L453.38 433.14 L455.66 433.71 L457.94 434.29 L460.22 434.86 L462.51 435.45 L464.81 436.04 L467.11 436.63 L469.42 437.23 L471.73 437.83 L474.05 438.44 L476.37 439.06 L478.69 439.68 L481.03 440.32 L483.36 440.96 L485.71 441.60 L488.05 442.26 L490.40 442.93 L492.76 443.61 L495.12 444.30 L497.49 445.00 L499.86 445.72 L502.24 446.45 L504.62 447.20 L507.01 447.97 L509.40 448.76 L511.80 449.58 L514.20 450.42 L516.61 451.29 L519.02 452.20 L519.14 452.25 L519.38 452.34 L519.62 452.43 L519.86 452.52 L520.10 452.62 L520.33 452.71 L520.57 452.80 L520.80 452.89 L521.04 452.99 L521.27 453.08 L521.44 453.15 L521.50 453.17 L521.73 453.26 L521.95 453.36 L522.18 453.45 L522.41 453.54 L522.63 453.63 L522.85 453.72 L523.08 453.82 L523.30 453.91 L523.52 454.00 L523.74 454.09 L523.86 454.14 L523.95 454.18 L524.17 454.28 L524.38 454.37 L524.60 454.46 L524.81 454.55 L525.02 454.64 L525.23 454.73 L525.44 454.82 L525.65 454.92 L525.86 455.01 L526.06 455.10 L526.27 455.19 L526.29 455.20 L526.47 455.28 L526.67 455.37 L526.87 455.46 L527.07 455.55 L527.27 455.64 L527.47 455.74 L527.67 455.83 L527.86 455.92 L528.05 456.01 L528.25 456.10 L528.44 456.19 L528.63 456.28 L528.72 456.32 L528.82 456.37 L529.00 456.46 L529.19 456.55 L529.38 456.64 L529.56 456.73 L529.74 456.82 L529.93 456.91 L530.11 457.00 L530.29 457.09 L530.46 457.18 L530.64 457.27 L530.82 457.37 L530.99 457.46 L531.15 457.54 L531.16 457.55 L531.34 457.64 L531.51 457.73 L531.68 457.82 L531.85 457.91 L532.01 458.00 L532.18 458.09 L532.34 458.18 L532.51 458.26 L532.67 458.35 L532.83 458.44 L532.99 458.53 L533.15 458.62 L533.31 458.71 L533.47 458.80 L533.59 458.88 L533.62 458.89 L533.78 458.98 L533.93 459.07 L534.08 459.16 L534.23 459.25 L534.38 459.34 L534.53 459.43 L534.67 459.52 L534.82 459.61 L534.96 459.70 L535.11 459.79 L535.25 459.88 L535.39 459.96 L535.53 460.05 L535.67 460.14 L535.81 460.23 L535.94 460.32 L536.04 460.39 L536.08 460.41 L536.21 460.50 L536.34 460.59 L536.47 460.68 L536.60 460.77 L536.73 460.86 L536.86 460.94 L536.99 461.03 L537.11 461.12 L537.23 461.21 L537.36 461.30 L537.48 461.39 L537.60 461.48 L537.72 461.57 L537.83 461.65 L537.95 461.74 L538.07 461.83 L538.18 461.92 L538.29 462.01 L538.40 462.10 L538.49 462.17 L538.51 462.19 L538.62 462.27 L538.73 462.36 L538.84 462.45 L538.94 462.54 L539.05 462.63 L539.15 462.72 L539.25 462.80 L539.35 462.89 L539.45 462.98 L539.55 463.07 L539.65 463.16 L539.74 463.25 L539.84 463.33 L539.93 463.42 L540.02 463.51 L540.11 463.60 L540.20 463.69 L540.29 463.77 L540.38 463.86 L540.46 463.95 L540.55 464.04 L540.63 464.13 L540.71 464.22 L540.80 464.30 L540.87 464.39 L540.95 464.47 L540.95 464.48 L541.03 464.57 L541.11 464.65 L541.18 464.74 L541.25 464.83 L541.33 464.92 L541.40 465.01 L541.47 465.09 L541.54 465.18 L541.60 465.27 L541.67 465.36 L541.73 465.45 L541.80 465.53 L541.86 465.62 L541.92 465.71 L541.98 465.80 L542.04 465.88 L542.10 465.97 L542.15 466.06 L542.21 466.15 L542.26 466.24 L542.32 466.32 L542.37 466.41 L542.42 466.50 L542.47 466.59 L542.51 466.67 L542.56 466.76 L542.61 466.85 L542.65 466.94 L542.69 467.02 L542.73 467.11 L542.77 467.20 L542.81 467.29 L542.85 467.37 L542.89 467.46 L542.92 467.55 L542.96 467.64 L542.99 467.73 L543.02 467.81 L543.05 467.90 L543.08 467.99 L543.11 468.08 L543.13 468.16 L543.16 468.25 L543.18 468.34 L543.21 468.43 L543.23 468.51 L543.25 468.60 L543.27 468.69 L543.29 468.78 L543.30 468.86 L543.32 468.95 L543.33 469.04 L543.35 469.13 L543.36 469.21 L543.37 469.30 L543.38 469.39 L543.38 469.48 L543.39 469.56 L543.40 469.65 L543.40 469.74 L543.40 469.83 L543.41 469.91 L543.41 470.00" stroke="#000000" stroke-width="3.1" stroke-linejoin="round"/>
<path d="M165.05 302.54 L166.32 304.61 L167.59 306.63 L168.88 308.60 L170.19 310.52 L171.50 312.38 L172.83 314.21 L174.17 315.99 L175.52 317.72 L176.88 319.42 L178.25 321.08 L179.64 322.70 L181.03 324.29 L182.44 325.84 L183.86 327.36 L185.29 328.85 L186.73 330.31 L188.19 331.74 L189.65 333.14 L191.12 334.52 L192.61 335.86 L194.10 337.19 L195.61 338.49 L197.13 339.76 L198.66 341.02 L200.19 342.25 L201.74 343.46 L203.30 344.65 L204.87 345.82 L206.45 346.98 L208.04 348.11 L209.63 349.23 L211.24 350.32 L212.86 351.41 L214.49 352.47 L216.13 353.52 L217.78 354.56 L219.43 355.58 L221.10 356.58 L222.78 357.57 L224.46 358.55 L226.16 359.52 L227.86 360.47 L229.58 361.41 L231.30 362.34 L233.03 363.25 L234.78 364.16 L236.53 365.05 L238.29 365.93 L240.06 366.80 L241.83 367.66 L243.62 368.52 L245.42 369.36 L247.22 370.19 L249.03 371.01 L250.86 371.83 L252.69 372.63 L254.53 373.43 L256.38 374.22 L258.23 375.00 L260.10 375.77 L261.97 376.53 L263.85 377.29 L265.75 378.04 L267.64 378.78 L269.55 379.52 L271.47 380.25 L273.39 380.97 L275.32 381.68 L277.27 382.39 L279.21 383.09 L281.17 383.79 L283.14 384.48 L285.11 385.17 L287.09 385.85 L289.08 386.52 L291.08 387.19 L293.08 387.85 L295.10 388.51 L297.12 389.16 L299.15 389.81 L301.18 390.46 L303.23 391.09 L305.28 391.73 L307.34 392.36 L309.41 392.98 L311.48 393.61 L313.57 394.22 L315.66 394.84 L317.76 395.45 L319.86 396.05 L321.98 396.65 L324.10 397.25 L326.23 397.85 L328.36 398.44 L330.51 399.03 L332.66 399.61 L334.81 400.19 L336.98 400.77 L339.15 401.35 L341.33 401.92 L343.52 402.49 L345.72 403.06 L347.92 403.62 L350.13 404.18 L352.34 404.74 L354.57 405.30 L356.80 405.85 L359.04 406.40 L361.28 406.95 L363.53 407.50 L365.79 408.05 L368.06 408.59 L370.33 409.13 L372.61 409.67 L374.90 410.21 L377.19 410.75 L379.50 411.28 L381.80 411.82 L384.12 412.35 L386.44 412.88 L388.77 413.41 L391.10 413.94 L393.45 414.46 L395.80 414.99 L398.15 415.51 L400.51 416.04 L402.88 416.56 L405.26 417.08 L407.64 417.60 L410.03 418.12 L412.43 418.64 L414.83 419.16 L417.24 419.68 L419.66 420.20 L422.08 420.72 L424.51 421.24 L426.94 421.75 L429.39 422.27 L431.83 422.79 L434.29 423.31 L436.75 423.83 L439.22 424.35 L441.69 424.87 L444.17 425.39 L446.66 425.91 L449.16 426.43 L451.66 426.95 L454.16 427.48 L456.68 428.00 L459.19 428.53 L461.72 429.06 L464.25 429.59 L466.79 430.12 L469.33 430.65 L471.89 431.18 L474.44 431.72 L477.01 432.26 L479.57 432.80 L482.15 433.35 L484.73 433.89 L487.32 434.45 L489.91 435.00 L492.51 435.56 L495.12 436.12 L497.73 436.68 L500.35 437.25 L502.97 437.83 L505.61 438.41 L508.24 438.99 L510.88 439.58 L513.53 440.18 L516.19 440.78 L518.85 441.39 L521.51 442.01 L524.19 442.64 L526.87 443.27 L529.55 443.92 L532.24 444.57 L534.94 445.24 L537.64 445.92 L540.35 446.61 L543.06 447.32 L545.78 448.05 L548.51 448.79 L551.24 449.55 L553.98 450.34 L556.72 451.15 L559.47 451.99 L562.22 452.86 L562.36 452.91 L562.64 453.00 L562.91 453.09 L563.18 453.18 L563.45 453.27 L563.72 453.35 L563.99 453.44 L564.26 453.53 L564.52 453.62 L564.79 453.71 L564.98 453.78 L565.05 453.80 L565.31 453.89 L565.57 453.98 L565.83 454.07 L566.09 454.16 L566.35 454.24 L566.60 454.33 L566.86 454.42 L567.11 454.51 L567.36 454.60 L567.61 454.69 L567.75 454.74 L567.86 454.78 L568.11 454.86 L568.35 454.95 L568.60 455.04 L568.84 455.13 L569.08 455.22 L569.32 455.30 L569.56 455.39 L569.80 455.48 L570.03 455.57 L570.27 455.66 L570.50 455.74 L570.52 455.75 L570.73 455.83 L570.96 455.92 L571.19 456.01 L571.42 456.10 L571.65 456.18 L571.87 456.27 L572.10 456.36 L572.32 456.45 L572.54 456.53 L572.76 456.62 L572.98 456.71 L573.20 456.80 L573.30 456.84 L573.41 456.88 L573.63 456.97 L573.84 457.06 L574.05 457.14 L574.26 457.23 L574.47 457.32 L574.68 457.41 L574.89 457.49 L575.09 457.58 L575.30 457.67 L575.50 457.75 L575.70 457.84 L575.90 457.93 L576.08 458.01 L576.10 458.01 L576.29 458.10 L576.49 458.19 L576.68 458.27 L576.87 458.36 L577.07 458.45 L577.26 458.53 L577.44 458.62 L577.63 458.71 L577.82 458.79 L578.00 458.88 L578.18 458.97 L578.37 459.05 L578.55 459.14 L578.73 459.22 L578.87 459.30 L578.90 459.31 L579.08 459.40 L579.25 459.48 L579.43 459.57 L579.60 459.66 L579.77 459.74 L579.94 459.83 L580.11 459.91 L580.27 460.00 L580.44 460.09 L580.60 460.17 L580.76 460.26 L580.92 460.34 L581.08 460.43 L581.24 460.51 L581.40 460.60 L581.55 460.69 L581.67 460.75 L581.71 460.77 L581.86 460.86 L582.01 460.94 L582.16 461.03 L582.31 461.11 L582.46 461.20 L582.60 461.29 L582.75 461.37 L582.89 461.46 L583.03 461.54 L583.17 461.63 L583.31 461.71 L583.45 461.80 L583.58 461.88 L583.72 461.97 L583.85 462.05 L583.98 462.14 L584.11 462.22 L584.24 462.31 L584.37 462.40 L584.47 462.46 L584.49 462.48 L584.62 462.57 L584.74 462.65 L584.86 462.74 L584.99 462.82 L585.10 462.91 L585.22 462.99 L585.34 463.08 L585.45 463.16 L585.57 463.25 L585.68 463.33 L585.79 463.42 L585.90 463.50 L586.01 463.59 L586.11 463.67 L586.22 463.76 L586.32 463.84 L586.42 463.93 L586.53 464.01 L586.62 464.09 L586.72 464.18 L586.82 464.26 L586.91 464.35 L587.01 464.43 L587.10 464.52 L587.19 464.60 L587.27 464.68 L587.28 464.69 L587.37 464.77 L587.46 464.86 L587.54 464.94 L587.63 465.03 L587.71 465.11 L587.79 465.20 L587.87 465.28 L587.95 465.36 L588.02 465.45 L588.10 465.53 L588.17 465.62 L588.25 465.70 L588.32 465.79 L588.39 465.87 L588.46 465.96 L588.52 466.04 L588.59 466.12 L588.65 466.21 L588.72 466.29 L588.78 466.38 L588.84 466.46 L588.90 466.55 L588.95 466.63 L589.01 466.72 L589.06 466.80 L589.12 466.88 L589.17 466.97 L589.22 467.05 L589.27 467.14 L589.32 467.22 L589.36 467.31 L589.41 467.39 L589.45 467.47 L589.49 467.56 L589.53 467.64 L589.57 467.73 L589.61 467.81 L589.64 467.90 L589.68 467.98 L589.71 468.06 L589.74 468.15 L589.77 468.23 L589.80 468.32 L589.83 468.40 L589.86 468.49 L589.88 468.57 L589.90 468.65 L589.93 468.74 L589.95 468.82 L589.97 468.91 L589.98 468.99 L590.00 469.07 L590.01 469.16 L590.03 469.24 L590.04 469.33 L590.05 469.41 L590.06 469.50 L590.07 469.58 L590.07 469.66 L590.08 469.75 L590.08 469.83 L590.09 469.92 L590.09 470.00" stroke="#000000" stroke-width="3.1" stroke-linejoin="round"/>
<path d="M163.11 300.64 L164.47 302.95 L165.84 305.18 L167.23 307.35 L168.63 309.46 L170.05 311.51 L171.48 313.50 L172.92 315.43 L174.38 317.32 L175.86 319.16 L177.35 320.95 L178.85 322.70 L180.36 324.40 L181.89 326.06 L183.44 327.69 L184.99 329.28 L186.56 330.83 L188.14 332.35 L189.74 333.84 L191.35 335.29 L192.97 336.72 L194.60 338.11 L196.25 339.48 L197.91 340.82 L199.58 342.14 L201.26 343.43 L202.96 344.69 L204.66 345.93 L206.38 347.16 L208.11 348.35 L209.86 349.53 L211.61 350.69 L213.38 351.83 L215.16 352.95 L216.95 354.05 L218.75 355.13 L220.56 356.20 L222.39 357.25 L224.22 358.28 L226.07 359.30 L227.93 360.31 L229.80 361.30 L231.68 362.27 L233.57 363.23 L235.47 364.18 L237.38 365.11 L239.30 366.04 L241.24 366.95 L243.18 367.84 L245.14 368.73 L247.10 369.61 L249.08 370.47 L251.07 371.32 L253.06 372.17 L255.07 373.00 L257.09 373.82 L259.12 374.64 L261.15 375.44 L263.20 376.24 L265.26 377.02 L267.33 377.80 L269.41 378.57 L271.49 379.33 L273.59 380.09 L275.70 380.83 L277.82 381.57 L279.94 382.30 L282.08 383.03 L284.23 383.74 L286.38 384.45 L288.55 385.16 L290.72 385.85 L292.91 386.55 L295.10 387.23 L297.30 387.91 L299.51 388.58 L301.74 389.25 L303.97 389.91 L306.21 390.57 L308.46 391.22 L310.71 391.86 L312.98 392.50 L315.26 393.14 L317.54 393.77 L319.84 394.39 L322.14 395.01 L324.46 395.63 L326.78 396.24 L329.11 396.85 L331.45 397.46 L333.80 398.06 L336.15 398.65 L338.52 399.24 L340.89 399.83 L343.27 400.42 L345.67 401.00 L348.07 401.58 L350.47 402.15 L352.89 402.72 L355.32 403.29 L357.75 403.86 L360.19 404.42 L362.65 404.98 L365.11 405.53 L367.57 406.09 L370.05 406.64 L372.53 407.18 L375.03 407.73 L377.53 408.27 L380.04 408.81 L382.55 409.35 L385.08 409.89 L387.61 410.42 L390.16 410.95 L392.71 411.48 L395.26 412.01 L397.83 412.54 L400.40 413.06 L402.99 413.59 L405.58 414.11 L408.17 414.63 L410.78 415.15 L413.39 415.66 L416.02 416.18 L418.65 416.69 L421.28 417.21 L423.93 417.72 L426.58 418.23 L429.24 418.74 L431.91 419.25 L434.59 419.76 L437.27 420.27 L439.96 420.77 L442.66 421.28 L445.37 421.79 L448.08 422.29 L450.80 422.80 L453.53 423.30 L456.27 423.81 L459.02 424.31 L461.77 424.82 L464.53 425.33 L467.30 425.83 L470.07 426.34 L472.85 426.84 L475.64 427.35 L478.44 427.86 L481.24 428.37 L484.05 428.88 L486.87 429.39 L489.70 429.90 L492.53 430.41 L495.37 430.93 L498.22 431.44 L501.08 431.96 L503.94 432.48 L506.81 433.00 L509.68 433.53 L512.57 434.05 L515.46 434.58 L518.36 435.11 L521.26 435.65 L524.17 436.18 L527.09 436.72 L530.02 437.27 L532.95 437.82 L535.89 438.37 L538.84 438.93 L541.80 439.49 L544.76 440.05 L547.73 440.63 L550.70 441.20 L553.68 441.79 L556.67 442.38 L559.67 442.98 L562.67 443.58 L565.68 444.20 L568.70 444.82 L571.72 445.46 L574.75 446.10 L577.79 446.76 L580.83 447.43 L583.88 448.11 L586.94 448.82 L590.00 449.53 L593.08 450.27 L596.15 451.03 L599.24 451.81 L602.33 452.62 L605.43 453.47 L605.58 453.51 L605.89 453.60 L606.20 453.68 L606.50 453.77 L606.81 453.86 L607.11 453.94 L607.41 454.03 L607.71 454.12 L608.01 454.20 L608.31 454.29 L608.53 454.35 L608.61 454.37 L608.90 454.46 L609.19 454.54 L609.49 454.63 L609.78 454.72 L610.06 454.80 L610.35 454.89 L610.64 454.97 L610.92 455.06 L611.20 455.14 L611.48 455.23 L611.64 455.28 L611.76 455.31 L612.04 455.40 L612.32 455.48 L612.59 455.57 L612.86 455.66 L613.14 455.74 L613.41 455.83 L613.68 455.91 L613.94 456.00 L614.21 456.08 L614.47 456.16 L614.74 456.25 L614.76 456.26 L615.00 456.33 L615.26 456.42 L615.51 456.50 L615.77 456.59 L616.03 456.67 L616.28 456.76 L616.53 456.84 L616.78 456.93 L617.03 457.01 L617.28 457.10 L617.52 457.18 L617.77 457.26 L617.88 457.30 L618.01 457.35 L618.25 457.43 L618.49 457.52 L618.73 457.60 L618.97 457.68 L619.20 457.77 L619.44 457.85 L619.67 457.94 L619.90 458.02 L620.13 458.10 L620.35 458.19 L620.58 458.27 L620.80 458.36 L621.01 458.43 L621.03 458.44 L621.25 458.52 L621.47 458.61 L621.69 458.69 L621.90 458.77 L622.12 458.86 L622.33 458.94 L622.54 459.02 L622.75 459.11 L622.96 459.19 L623.17 459.27 L623.38 459.36 L623.58 459.44 L623.78 459.52 L623.99 459.61 L624.15 459.68 L624.18 459.69 L624.38 459.77 L624.58 459.86 L624.77 459.94 L624.97 460.02 L625.16 460.11 L625.35 460.19 L625.54 460.27 L625.73 460.36 L625.91 460.44 L626.10 460.52 L626.28 460.60 L626.46 460.69 L626.64 460.77 L626.82 460.85 L626.99 460.94 L627.17 461.02 L627.29 461.08 L627.34 461.10 L627.51 461.18 L627.68 461.27 L627.85 461.35 L628.02 461.43 L628.18 461.51 L628.35 461.60 L628.51 461.68 L628.67 461.76 L628.83 461.84 L628.99 461.93 L629.14 462.01 L629.30 462.09 L629.45 462.17 L629.60 462.26 L629.75 462.34 L629.90 462.42 L630.04 462.50 L630.19 462.58 L630.33 462.67 L630.44 462.73 L630.47 462.75 L630.62 462.83 L630.75 462.91 L630.89 462.99 L631.03 463.08 L631.16 463.16 L631.29 463.24 L631.42 463.32 L631.55 463.41 L631.68 463.49 L631.81 463.57 L631.93 463.65 L632.05 463.73 L632.18 463.81 L632.30 463.90 L632.41 463.98 L632.53 464.06 L632.65 464.14 L632.76 464.22 L632.87 464.31 L632.98 464.39 L633.09 464.47 L633.20 464.55 L633.30 464.63 L633.41 464.71 L633.51 464.80 L633.60 464.87 L633.61 464.88 L633.71 464.96 L633.81 465.04 L633.90 465.12 L634.00 465.20 L634.09 465.29 L634.18 465.37 L634.27 465.45 L634.36 465.53 L634.45 465.61 L634.53 465.69 L634.61 465.77 L634.70 465.86 L634.78 465.94 L634.86 466.02 L634.93 466.10 L635.01 466.18 L635.08 466.26 L635.15 466.34 L635.22 466.43 L635.29 466.51 L635.36 466.59 L635.43 466.67 L635.49 466.75 L635.55 466.83 L635.62 466.91 L635.68 467.00 L635.73 467.08 L635.79 467.16 L635.84 467.24 L635.90 467.32 L635.95 467.40 L636.00 467.48 L636.05 467.56 L636.10 467.65 L636.14 467.73 L636.18 467.81 L636.23 467.89 L636.27 467.97 L636.31 468.05 L636.34 468.13 L636.38 468.21 L636.41 468.30 L636.45 468.38 L636.48 468.46 L636.51 468.54 L636.53 468.62 L636.56 468.70 L636.59 468.78 L636.61 468.86 L636.63 468.95 L636.65 469.03 L636.67 469.11 L636.68 469.19 L636.70 469.27 L636.71 469.35 L636.73 469.43 L636.74 469.51 L636.74 469.59 L636.75 469.68 L636.76 469.76 L636.76 469.84 L636.76 469.92 L636.76 470.00" stroke="#000000" stroke-width="3.1" stroke-linejoin="round"/>
<path d="M161.41 299.08 L162.86 301.62 L164.32 304.06 L165.80 306.43 L167.30 308.72 L168.82 310.94 L170.35 313.09 L171.90 315.18 L173.46 317.21 L175.05 319.18 L176.64 321.09 L178.26 322.96 L179.89 324.77 L181.54 326.54 L183.20 328.26 L184.88 329.94 L186.57 331.58 L188.28 333.18 L190.00 334.74 L191.74 336.26 L193.49 337.76 L195.26 339.22 L197.04 340.64 L198.84 342.04 L200.65 343.41 L202.48 344.75 L204.32 346.06 L206.17 347.35 L208.04 348.61 L209.92 349.85 L211.82 351.06 L213.73 352.26 L215.65 353.43 L217.59 354.58 L219.53 355.71 L221.50 356.82 L223.47 357.91 L225.46 358.99 L227.46 360.04 L229.48 361.08 L231.51 362.11 L233.55 363.11 L235.60 364.11 L237.66 365.08 L239.74 366.05 L241.83 366.99 L243.94 367.93 L246.05 368.85 L248.18 369.76 L250.32 370.66 L252.47 371.54 L254.63 372.41 L256.81 373.28 L259.00 374.13 L261.20 374.97 L263.41 375.79 L265.63 376.61 L267.86 377.42 L270.11 378.22 L272.37 379.01 L274.64 379.79 L276.92 380.56 L279.21 381.33 L281.51 382.08 L283.83 382.83 L286.15 383.57 L288.49 384.30 L290.83 385.02 L293.19 385.74 L295.56 386.45 L297.94 387.15 L300.33 387.84 L302.74 388.53 L305.15 389.22 L307.57 389.89 L310.01 390.56 L312.45 391.22 L314.91 391.88 L317.37 392.53 L319.85 393.18 L322.34 393.82 L324.83 394.45 L327.34 395.09 L329.86 395.71 L332.39 396.33 L334.93 396.95 L337.47 397.56 L340.03 398.16 L342.60 398.76 L345.18 399.36 L347.77 399.96 L350.37 400.54 L352.98 401.13 L355.60 401.71 L358.23 402.29 L360.86 402.86 L363.51 403.43 L366.17 404.00 L368.84 404.56 L371.52 405.12 L374.20 405.68 L376.90 406.23 L379.61 406.78 L382.32 407.33 L385.05 407.87 L387.78 408.41 L390.53 408.95 L393.28 409.49 L396.05 410.02 L398.82 410.55 L401.60 411.08 L404.39 411.61 L407.19 412.13 L410.00 412.66 L412.82 413.18 L415.65 413.69 L418.49 414.21 L421.33 414.72 L424.19 415.24 L427.05 415.75 L429.93 416.26 L432.81 416.76 L435.70 417.27 L438.60 417.77 L441.51 418.28 L444.43 418.78 L447.36 419.28 L450.30 419.78 L453.24 420.28 L456.19 420.78 L459.16 421.27 L462.13 421.77 L465.11 422.27 L468.10 422.76 L471.09 423.26 L474.10 423.75 L477.11 424.24 L480.14 424.74 L483.17 425.23 L486.21 425.72 L489.26 426.21 L492.32 426.71 L495.38 427.20 L498.46 427.69 L501.54 428.19 L504.63 428.68 L507.73 429.18 L510.84 429.67 L513.95 430.17 L517.08 430.66 L520.21 431.16 L523.35 431.66 L526.50 432.16 L529.66 432.66 L532.82 433.17 L536.00 433.67 L539.18 434.18 L542.37 434.69 L545.57 435.20 L548.77 435.71 L551.99 436.23 L555.21 436.75 L558.44 437.27 L561.68 437.80 L564.92 438.32 L568.18 438.86 L571.44 439.39 L574.71 439.93 L577.99 440.48 L581.28 441.03 L584.57 441.58 L587.87 442.14 L591.18 442.71 L594.50 443.28 L597.82 443.86 L601.16 444.45 L604.50 445.05 L607.85 445.65 L611.20 446.27 L614.57 446.89 L617.94 447.53 L621.32 448.18 L624.71 448.84 L628.10 449.52 L631.50 450.21 L634.91 450.92 L638.33 451.66 L641.76 452.42 L645.19 453.20 L648.63 454.02 L648.80 454.06 L649.14 454.15 L649.49 454.23 L649.83 454.31 L650.17 454.40 L650.50 454.48 L650.84 454.56 L651.17 454.65 L651.50 454.73 L651.83 454.81 L652.08 454.87 L652.16 454.89 L652.49 454.98 L652.81 455.06 L653.14 455.14 L653.46 455.23 L653.78 455.31 L654.10 455.39 L654.42 455.48 L654.73 455.56 L655.05 455.64 L655.36 455.72 L655.53 455.77 L655.67 455.81 L655.98 455.89 L656.28 455.97 L656.59 456.05 L656.89 456.14 L657.19 456.22 L657.49 456.30 L657.79 456.38 L658.09 456.46 L658.38 456.55 L658.68 456.63 L658.97 456.71 L658.99 456.72 L659.26 456.79 L659.55 456.87 L659.83 456.96 L660.12 457.04 L660.40 457.12 L660.68 457.20 L660.96 457.28 L661.24 457.36 L661.52 457.45 L661.79 457.53 L662.07 457.61 L662.34 457.69 L662.47 457.73 L662.61 457.77 L662.88 457.85 L663.14 457.93 L663.41 458.02 L663.67 458.10 L663.93 458.18 L664.19 458.26 L664.45 458.34 L664.70 458.42 L664.96 458.50 L665.21 458.58 L665.46 458.67 L665.71 458.75 L665.94 458.82 L665.96 458.83 L666.21 458.91 L666.45 458.99 L666.69 459.07 L666.93 459.15 L667.17 459.23 L667.41 459.31 L667.64 459.39 L667.88 459.47 L668.11 459.55 L668.34 459.64 L668.57 459.72 L668.80 459.80 L669.02 459.88 L669.24 459.96 L669.43 460.02 L669.47 460.04 L669.69 460.12 L669.90 460.20 L670.12 460.28 L670.34 460.36 L670.55 460.44 L670.76 460.52 L670.97 460.60 L671.18 460.68 L671.38 460.76 L671.59 460.84 L671.79 460.92 L671.99 461.00 L672.19 461.08 L672.39 461.16 L672.59 461.24 L672.78 461.32 L672.92 461.38 L672.97 461.40 L673.16 461.48 L673.35 461.56 L673.54 461.64 L673.72 461.72 L673.91 461.80 L674.09 461.88 L674.27 461.96 L674.45 462.04 L674.63 462.12 L674.80 462.20 L674.97 462.28 L675.15 462.36 L675.32 462.44 L675.48 462.52 L675.65 462.60 L675.81 462.67 L675.98 462.75 L676.14 462.83 L676.30 462.91 L676.42 462.98 L676.45 462.99 L676.61 463.07 L676.76 463.15 L676.92 463.23 L677.07 463.31 L677.22 463.39 L677.36 463.47 L677.51 463.55 L677.65 463.63 L677.79 463.71 L677.93 463.79 L678.07 463.86 L678.21 463.94 L678.34 464.02 L678.48 464.10 L678.61 464.18 L678.74 464.26 L678.87 464.34 L678.99 464.42 L679.12 464.50 L679.24 464.58 L679.36 464.66 L679.48 464.73 L679.60 464.81 L679.71 464.89 L679.83 464.97 L679.93 465.04 L679.94 465.05 L680.05 465.13 L680.16 465.21 L680.26 465.29 L680.37 465.37 L680.47 465.44 L680.57 465.52 L680.67 465.60 L680.77 465.68 L680.87 465.76 L680.96 465.84 L681.05 465.92 L681.15 466.00 L681.23 466.07 L681.32 466.15 L681.41 466.23 L681.49 466.31 L681.57 466.39 L681.65 466.47 L681.73 466.55 L681.81 466.63 L681.88 466.70 L681.96 466.78 L682.03 466.86 L682.10 466.94 L682.17 467.02 L682.23 467.10 L682.30 467.18 L682.36 467.25 L682.42 467.33 L682.48 467.41 L682.54 467.49 L682.59 467.57 L682.65 467.65 L682.70 467.73 L682.75 467.80 L682.80 467.88 L682.85 467.96 L682.89 468.04 L682.93 468.12 L682.98 468.20 L683.02 468.27 L683.05 468.35 L683.09 468.43 L683.12 468.51 L683.16 468.59 L683.19 468.67 L683.22 468.75 L683.24 468.82 L683.27 468.90 L683.29 468.98 L683.32 469.06 L683.34 469.14 L683.35 469.22 L683.37 469.29 L683.39 469.37 L683.40 469.45 L683.41 469.53 L683.42 469.61 L683.43 469.69 L683.43 469.76 L683.44 469.84 L683.44 469.92 L683.44 470.00" stroke="#000000" stroke-width="3.1" stroke-linejoin="round"/>
<path d="M167.31 272.04 L168.48 274.26 L169.65 276.42 L170.84 278.53 L172.03 280.59 L173.24 282.61 L174.46 284.59 L175.68 286.52 L176.92 288.42 L178.16 290.27 L179.42 292.09 L180.68 293.88 L181.95 295.63 L183.23 297.34 L184.53 299.03 L185.83 300.68 L187.14 302.30 L188.46 303.90 L189.78 305.46 L191.12 307.01 L192.47 308.52 L193.82 310.01 L195.18 311.47 L196.55 312.91 L197.93 314.33 L199.32 315.73 L200.72 317.10 L202.13 318.46 L203.54 319.79 L204.96 321.11 L206.39 322.40 L207.83 323.68 L209.28 324.94 L210.74 326.18 L212.20 327.41 L213.67 328.62 L215.15 329.81 L216.64 330.99 L218.14 332.15 L219.64 333.30 L221.15 334.43 L222.67 335.55 L224.20 336.65 L225.73 337.75 L227.27 338.83 L228.82 339.89 L230.38 340.95 L231.95 341.99 L233.52 343.02 L235.10 344.04 L236.69 345.05 L238.28 346.05 L239.89 347.04 L241.50 348.02 L243.11 348.99 L244.74 349.94 L246.37 350.89 L248.01 351.83 L249.66 352.76 L251.31 353.68 L252.97 354.60 L254.64 355.50 L256.32 356.40 L258.00 357.29 L259.69 358.17 L261.38 359.04 L263.09 359.91 L264.80 360.76 L266.51 361.62 L268.24 362.46 L269.97 363.30 L271.71 364.13 L273.45 364.95 L275.20 365.77 L276.96 366.58 L278.72 367.39 L280.50 368.19 L282.27 368.98 L284.06 369.77 L285.85 370.55 L287.65 371.33 L289.45 372.10 L291.26 372.87 L293.08 373.63 L294.91 374.39 L296.74 375.14 L298.57 375.89 L300.42 376.64 L302.27 377.38 L304.12 378.11 L305.99 378.84 L307.86 379.57 L309.73 380.29 L311.61 381.01 L313.50 381.72 L315.40 382.43 L317.30 383.14 L319.20 383.85 L321.12 384.55 L323.03 385.24 L324.96 385.94 L326.89 386.63 L328.83 387.32 L330.77 388.00 L332.72 388.68 L334.68 389.36 L336.64 390.04 L338.61 390.71 L340.58 391.39 L342.56 392.05 L344.55 392.72 L346.54 393.39 L348.54 394.05 L350.54 394.71 L352.55 395.37 L354.57 396.02 L356.59 396.68 L358.62 397.33 L360.65 397.98 L362.69 398.63 L364.73 399.28 L366.78 399.93 L368.84 400.57 L370.90 401.22 L372.97 401.86 L375.04 402.50 L377.12 403.14 L379.21 403.78 L381.30 404.42 L383.40 405.06 L385.50 405.70 L387.60 406.34 L389.72 406.98 L391.84 407.61 L393.96 408.25 L396.09 408.89 L398.23 409.52 L400.37 410.16 L402.51 410.80 L404.67 411.43 L406.82 412.07 L408.99 412.71 L411.16 413.35 L413.33 413.99 L415.51 414.63 L417.69 415.27 L419.89 415.91 L422.08 416.56 L424.28 417.20 L426.49 417.85 L428.70 418.50 L430.92 419.15 L433.14 419.80 L435.37 420.46 L437.60 421.12 L439.84 421.78 L442.08 422.44 L444.33 423.11 L446.59 423.78 L448.85 424.45 L451.11 425.13 L453.38 425.81 L455.66 426.49 L457.94 427.18 L460.22 427.88 L462.51 428.58 L464.81 429.28 L467.11 429.99 L469.42 430.71 L471.73 431.44 L474.05 432.17 L476.37 432.91 L478.69 433.66 L481.03 434.41 L483.36 435.18 L485.71 435.96 L488.05 436.75 L490.40 437.55 L492.76 438.36 L495.12 439.19 L497.49 440.03 L499.86 440.89 L502.24 441.77 L504.62 442.67 L507.01 443.59 L509.40 444.54 L511.80 445.52 L514.20 446.53 L516.61 447.57 L519.02 448.66 L519.14 448.72 L519.38 448.83 L519.62 448.94 L519.86 449.05 L520.10 449.16 L520.33 449.27 L520.57 449.38 L520.80 449.49 L521.04 449.60 L521.27 449.71 L521.44 449.80 L521.50 449.83 L521.73 449.94 L521.95 450.05 L522.18 450.16 L522.41 450.27 L522.63 450.38 L522.85 450.49 L523.08 450.60 L523.30 450.71 L523.52 450.82 L523.74 450.93 L523.86 450.99 L523.95 451.04 L524.17 451.15 L524.38 451.26 L524.60 451.37 L524.81 451.48 L525.02 451.59 L525.23 451.70 L525.44 451.81 L525.65 451.92 L525.86 452.03 L526.06 452.13 L526.27 452.24 L526.29 452.25 L526.47 452.35 L526.67 452.46 L526.87 452.57 L527.07 452.68 L527.27 452.79 L527.47 452.90 L527.67 453.01 L527.86 453.12 L528.05 453.23 L528.25 453.33 L528.44 453.44 L528.63 453.55 L528.72 453.60 L528.82 453.66 L529.00 453.77 L529.19 453.88 L529.38 453.99 L529.56 454.09 L529.74 454.20 L529.93 454.31 L530.11 454.42 L530.29 454.53 L530.46 454.64 L530.64 454.74 L530.82 454.85 L530.99 454.96 L531.15 455.06 L531.16 455.07 L531.34 455.18 L531.51 455.28 L531.68 455.39 L531.85 455.50 L532.01 455.61 L532.18 455.72 L532.34 455.82 L532.51 455.93 L532.67 456.04 L532.83 456.15 L532.99 456.25 L533.15 456.36 L533.31 456.47 L533.47 456.58 L533.59 456.67 L533.62 456.68 L533.78 456.79 L533.93 456.90 L534.08 457.01 L534.23 457.11 L534.38 457.22 L534.53 457.33 L534.67 457.43 L534.82 457.54 L534.96 457.65 L535.11 457.76 L535.25 457.86 L535.39 457.97 L535.53 458.08 L535.67 458.18 L535.81 458.29 L535.94 458.40 L536.04 458.47 L536.08 458.50 L536.21 458.61 L536.34 458.72 L536.47 458.82 L536.60 458.93 L536.73 459.04 L536.86 459.14 L536.99 459.25 L537.11 459.36 L537.23 459.46 L537.36 459.57 L537.48 459.68 L537.60 459.78 L537.72 459.89 L537.83 459.99 L537.95 460.10 L538.07 460.21 L538.18 460.31 L538.29 460.42 L538.40 460.53 L538.49 460.61 L538.51 460.63 L538.62 460.74 L538.73 460.84 L538.84 460.95 L538.94 461.06 L539.05 461.16 L539.15 461.27 L539.25 461.37 L539.35 461.48 L539.45 461.58 L539.55 461.69 L539.65 461.80 L539.74 461.90 L539.84 462.01 L539.93 462.11 L540.02 462.22 L540.11 462.33 L540.20 462.43 L540.29 462.54 L540.38 462.64 L540.46 462.75 L540.55 462.85 L540.63 462.96 L540.71 463.06 L540.80 463.17 L540.87 463.28 L540.95 463.37 L540.95 463.38 L541.03 463.49 L541.11 463.59 L541.18 463.70 L541.25 463.80 L541.33 463.91 L541.40 464.01 L541.47 464.12 L541.54 464.22 L541.60 464.33 L541.67 464.43 L541.73 464.54 L541.80 464.65 L541.86 464.75 L541.92 464.86 L541.98 464.96 L542.04 465.07 L542.10 465.17 L542.15 465.28 L542.21 465.38 L542.26 465.49 L542.32 465.59 L542.37 465.70 L542.42 465.80 L542.47 465.91 L542.51 466.01 L542.56 466.12 L542.61 466.22 L542.65 466.33 L542.69 466.43 L542.73 466.54 L542.77 466.64 L542.81 466.75 L542.85 466.85 L542.89 466.96 L542.92 467.06 L542.96 467.17 L542.99 467.27 L543.02 467.38 L543.05 467.48 L543.08 467.59 L543.11 467.69 L543.13 467.80 L543.16 467.90 L543.18 468.01 L543.21 468.11 L543.23 468.22 L543.25 468.32 L543.27 468.43 L543.29 468.53 L543.30 468.64 L543.32 468.74 L543.33 468.85 L543.35 468.95 L543.36 469.06 L543.37 469.16 L543.38 469.27 L543.38 469.37 L543.39 469.48 L543.40 469.58 L543.40 469.69 L543.40 469.79 L543.41 469.90 L543.41 470.00" stroke="#0000ff" stroke-width="2.2" stroke-dasharray="2.3 2.7" stroke-linejoin="round"/>
<path d="M165.05 269.24 L166.32 271.72 L167.59 274.14 L168.88 276.50 L170.19 278.80 L171.50 281.04 L172.83 283.23 L174.17 285.36 L175.52 287.44 L176.88 289.48 L178.25 291.47 L179.64 293.41 L181.03 295.31 L182.44 297.17 L183.86 299.00 L185.29 300.78 L186.73 302.53 L188.19 304.24 L189.65 305.93 L191.12 307.57 L192.61 309.19 L194.10 310.78 L195.61 312.34 L197.13 313.87 L198.66 315.37 L200.19 316.85 L201.74 318.30 L203.30 319.73 L204.87 321.13 L206.45 322.51 L208.04 323.87 L209.63 325.21 L211.24 326.53 L212.86 327.82 L214.49 329.10 L216.13 330.36 L217.78 331.60 L219.43 332.82 L221.10 334.03 L222.78 335.22 L224.46 336.39 L226.16 337.55 L227.86 338.69 L229.58 339.81 L231.30 340.93 L233.03 342.02 L234.78 343.11 L236.53 344.18 L238.29 345.24 L240.06 346.28 L241.83 347.31 L243.62 348.33 L245.42 349.34 L247.22 350.34 L249.03 351.33 L250.86 352.30 L252.69 353.27 L254.53 354.22 L256.38 355.17 L258.23 356.10 L260.10 357.03 L261.97 357.95 L263.85 358.85 L265.75 359.75 L267.64 360.64 L269.55 361.52 L271.47 362.40 L273.39 363.26 L275.32 364.12 L277.27 364.97 L279.21 365.81 L281.17 366.65 L283.14 367.48 L285.11 368.30 L287.09 369.11 L289.08 369.92 L291.08 370.72 L293.08 371.52 L295.10 372.31 L297.12 373.09 L299.15 373.87 L301.18 374.64 L303.23 375.40 L305.28 376.16 L307.34 376.92 L309.41 377.67 L311.48 378.41 L313.57 379.15 L315.66 379.89 L317.76 380.62 L319.86 381.35 L321.98 382.07 L324.10 382.79 L326.23 383.50 L328.36 384.21 L330.51 384.91 L332.66 385.61 L334.81 386.31 L336.98 387.00 L339.15 387.69 L341.33 388.38 L343.52 389.06 L345.72 389.74 L347.92 390.42 L350.13 391.09 L352.34 391.76 L354.57 392.43 L356.80 393.10 L359.04 393.76 L361.28 394.42 L363.53 395.07 L365.79 395.73 L368.06 396.38 L370.33 397.03 L372.61 397.68 L374.90 398.32 L377.19 398.97 L379.50 399.61 L381.80 400.25 L384.12 400.88 L386.44 401.52 L388.77 402.15 L391.10 402.79 L393.45 403.42 L395.80 404.05 L398.15 404.68 L400.51 405.30 L402.88 405.93 L405.26 406.56 L407.64 407.18 L410.03 407.81 L412.43 408.43 L414.83 409.05 L417.24 409.67 L419.66 410.30 L422.08 410.92 L424.51 411.54 L426.94 412.16 L429.39 412.78 L431.83 413.40 L434.29 414.03 L436.75 414.65 L439.22 415.27 L441.69 415.89 L444.17 416.52 L446.66 417.14 L449.16 417.77 L451.66 418.39 L454.16 419.02 L456.68 419.65 L459.19 420.28 L461.72 420.91 L464.25 421.55 L466.79 422.19 L469.33 422.82 L471.89 423.47 L474.44 424.11 L477.01 424.76 L479.57 425.41 L482.15 426.06 L484.73 426.71 L487.32 427.37 L489.91 428.04 L492.51 428.71 L495.12 429.38 L497.73 430.06 L500.35 430.74 L502.97 431.43 L505.61 432.12 L508.24 432.83 L510.88 433.53 L513.53 434.25 L516.19 434.97 L518.85 435.70 L521.51 436.45 L524.19 437.20 L526.87 437.96 L529.55 438.73 L532.24 439.52 L534.94 440.32 L537.64 441.13 L540.35 441.96 L543.06 442.81 L545.78 443.68 L548.51 444.57 L551.24 445.49 L553.98 446.43 L556.72 447.40 L559.47 448.41 L562.22 449.46 L562.36 449.51 L562.64 449.62 L562.91 449.72 L563.18 449.83 L563.45 449.94 L563.72 450.04 L563.99 450.15 L564.26 450.26 L564.52 450.37 L564.79 450.47 L564.98 450.55 L565.05 450.58 L565.31 450.69 L565.57 450.79 L565.83 450.90 L566.09 451.00 L566.35 451.11 L566.60 451.22 L566.86 451.32 L567.11 451.43 L567.36 451.54 L567.61 451.64 L567.75 451.70 L567.86 451.75 L568.11 451.85 L568.35 451.96 L568.60 452.07 L568.84 452.17 L569.08 452.28 L569.32 452.38 L569.56 452.49 L569.80 452.59 L570.03 452.70 L570.27 452.80 L570.50 452.91 L570.52 452.92 L570.73 453.01 L570.96 453.12 L571.19 453.23 L571.42 453.33 L571.65 453.44 L571.87 453.54 L572.10 453.65 L572.32 453.75 L572.54 453.86 L572.76 453.96 L572.98 454.06 L573.20 454.17 L573.30 454.22 L573.41 454.27 L573.63 454.38 L573.84 454.48 L574.05 454.59 L574.26 454.69 L574.47 454.80 L574.68 454.90 L574.89 455.01 L575.09 455.11 L575.30 455.21 L575.50 455.32 L575.70 455.42 L575.90 455.53 L576.08 455.62 L576.10 455.63 L576.29 455.73 L576.49 455.84 L576.68 455.94 L576.87 456.05 L577.07 456.15 L577.26 456.25 L577.44 456.36 L577.63 456.46 L577.82 456.56 L578.00 456.67 L578.18 456.77 L578.37 456.87 L578.55 456.98 L578.73 457.08 L578.87 457.17 L578.90 457.19 L579.08 457.29 L579.25 457.39 L579.43 457.50 L579.60 457.60 L579.77 457.70 L579.94 457.80 L580.11 457.91 L580.27 458.01 L580.44 458.11 L580.60 458.22 L580.76 458.32 L580.92 458.42 L581.08 458.53 L581.24 458.63 L581.40 458.73 L581.55 458.83 L581.67 458.91 L581.71 458.94 L581.86 459.04 L582.01 459.14 L582.16 459.24 L582.31 459.35 L582.46 459.45 L582.60 459.55 L582.75 459.66 L582.89 459.76 L583.03 459.86 L583.17 459.96 L583.31 460.06 L583.45 460.17 L583.58 460.27 L583.72 460.37 L583.85 460.47 L583.98 460.58 L584.11 460.68 L584.24 460.78 L584.37 460.88 L584.47 460.96 L584.49 460.98 L584.62 461.09 L584.74 461.19 L584.86 461.29 L584.99 461.39 L585.10 461.50 L585.22 461.60 L585.34 461.70 L585.45 461.80 L585.57 461.90 L585.68 462.00 L585.79 462.11 L585.90 462.21 L586.01 462.31 L586.11 462.41 L586.22 462.51 L586.32 462.62 L586.42 462.72 L586.53 462.82 L586.62 462.92 L586.72 463.02 L586.82 463.12 L586.91 463.23 L587.01 463.33 L587.10 463.43 L587.19 463.53 L587.27 463.62 L587.28 463.63 L587.37 463.73 L587.46 463.83 L587.54 463.94 L587.63 464.04 L587.71 464.14 L587.79 464.24 L587.87 464.34 L587.95 464.44 L588.02 464.54 L588.10 464.65 L588.17 464.75 L588.25 464.85 L588.32 464.95 L588.39 465.05 L588.46 465.15 L588.52 465.25 L588.59 465.35 L588.65 465.46 L588.72 465.56 L588.78 465.66 L588.84 465.76 L588.90 465.86 L588.95 465.96 L589.01 466.06 L589.06 466.16 L589.12 466.26 L589.17 466.37 L589.22 466.47 L589.27 466.57 L589.32 466.67 L589.36 466.77 L589.41 466.87 L589.45 466.97 L589.49 467.07 L589.53 467.17 L589.57 467.28 L589.61 467.38 L589.64 467.48 L589.68 467.58 L589.71 467.68 L589.74 467.78 L589.77 467.88 L589.80 467.98 L589.83 468.08 L589.86 468.18 L589.88 468.28 L589.90 468.39 L589.93 468.49 L589.95 468.59 L589.97 468.69 L589.98 468.79 L590.00 468.89 L590.01 468.99 L590.03 469.09 L590.04 469.19 L590.05 469.29 L590.06 469.39 L590.07 469.50 L590.07 469.60 L590.08 469.70 L590.08 469.80 L590.09 469.90 L590.09 470.00" stroke="#0000ff" stroke-width="2.2" stroke-dasharray="2.3 2.7" stroke-linejoin="round"/>
<path d="M163.11 266.97 L164.47 269.73 L165.84 272.41 L167.23 275.01 L168.63 277.53 L170.05 279.99 L171.48 282.37 L172.92 284.70 L174.38 286.96 L175.86 289.16 L177.35 291.31 L178.85 293.40 L180.36 295.45 L181.89 297.44 L183.44 299.39 L184.99 301.30 L186.56 303.16 L188.14 304.98 L189.74 306.76 L191.35 308.50 L192.97 310.21 L194.60 311.88 L196.25 313.52 L197.91 315.13 L199.58 316.71 L201.26 318.26 L202.96 319.77 L204.66 321.26 L206.38 322.73 L208.11 324.16 L209.86 325.58 L211.61 326.96 L213.38 328.33 L215.16 329.67 L216.95 330.99 L218.75 332.29 L220.56 333.57 L222.39 334.83 L224.22 336.07 L226.07 337.29 L227.93 338.49 L229.80 339.68 L231.68 340.85 L233.57 342.00 L235.47 343.14 L237.38 344.26 L239.30 345.36 L241.24 346.45 L243.18 347.53 L245.14 348.59 L247.10 349.64 L249.08 350.68 L251.07 351.70 L253.06 352.71 L255.07 353.71 L257.09 354.70 L259.12 355.67 L261.15 356.64 L263.20 357.59 L265.26 358.53 L267.33 359.47 L269.41 360.39 L271.49 361.30 L273.59 362.21 L275.70 363.10 L277.82 363.99 L279.94 364.86 L282.08 365.73 L284.23 366.59 L286.38 367.44 L288.55 368.29 L290.72 369.12 L292.91 369.95 L295.10 370.77 L297.30 371.58 L299.51 372.39 L301.74 373.19 L303.97 373.98 L306.21 374.77 L308.46 375.55 L310.71 376.32 L312.98 377.09 L315.26 377.85 L317.54 378.61 L319.84 379.36 L322.14 380.10 L324.46 380.84 L326.78 381.58 L329.11 382.31 L331.45 383.03 L333.80 383.75 L336.15 384.46 L338.52 385.17 L340.89 385.88 L343.27 386.58 L345.67 387.28 L348.07 387.97 L350.47 388.66 L352.89 389.34 L355.32 390.02 L357.75 390.70 L360.19 391.38 L362.65 392.05 L365.11 392.71 L367.57 393.38 L370.05 394.04 L372.53 394.69 L375.03 395.35 L377.53 396.00 L380.04 396.65 L382.55 397.29 L385.08 397.93 L387.61 398.58 L390.16 399.21 L392.71 399.85 L395.26 400.48 L397.83 401.11 L400.40 401.74 L402.99 402.37 L405.58 402.99 L408.17 403.62 L410.78 404.24 L413.39 404.86 L416.02 405.48 L418.65 406.09 L421.28 406.71 L423.93 407.32 L426.58 407.93 L429.24 408.55 L431.91 409.16 L434.59 409.77 L437.27 410.38 L439.96 410.98 L442.66 411.59 L445.37 412.20 L448.08 412.81 L450.80 413.41 L453.53 414.02 L456.27 414.62 L459.02 415.23 L461.77 415.84 L464.53 416.44 L467.30 417.05 L470.07 417.65 L472.85 418.26 L475.64 418.87 L478.44 419.48 L481.24 420.09 L484.05 420.70 L486.87 421.31 L489.70 421.93 L492.53 422.54 L495.37 423.16 L498.22 423.78 L501.08 424.40 L503.94 425.02 L506.81 425.65 L509.68 426.27 L512.57 426.90 L515.46 427.54 L518.36 428.17 L521.26 428.81 L524.17 429.46 L527.09 430.11 L530.02 430.76 L532.95 431.42 L535.89 432.08 L538.84 432.75 L541.80 433.42 L544.76 434.10 L547.73 434.78 L550.70 435.48 L553.68 436.18 L556.67 436.89 L559.67 437.60 L562.67 438.33 L565.68 439.07 L568.70 439.82 L571.72 440.58 L574.75 441.35 L577.79 442.14 L580.83 442.94 L583.88 443.76 L586.94 444.60 L590.00 445.46 L593.08 446.35 L596.15 447.26 L599.24 448.20 L602.33 449.17 L605.43 450.18 L605.58 450.23 L605.89 450.34 L606.20 450.44 L606.50 450.54 L606.81 450.65 L607.11 450.75 L607.41 450.85 L607.71 450.96 L608.01 451.06 L608.31 451.16 L608.53 451.24 L608.61 451.27 L608.90 451.37 L609.19 451.47 L609.49 451.57 L609.78 451.68 L610.06 451.78 L610.35 451.88 L610.64 451.98 L610.92 452.09 L611.20 452.19 L611.48 452.29 L611.64 452.35 L611.76 452.39 L612.04 452.50 L612.32 452.60 L612.59 452.70 L612.86 452.80 L613.14 452.90 L613.41 453.01 L613.68 453.11 L613.94 453.21 L614.21 453.31 L614.47 453.41 L614.74 453.52 L614.76 453.52 L615.00 453.62 L615.26 453.72 L615.51 453.82 L615.77 453.92 L616.03 454.02 L616.28 454.12 L616.53 454.23 L616.78 454.33 L617.03 454.43 L617.28 454.53 L617.52 454.63 L617.77 454.73 L617.88 454.78 L618.01 454.83 L618.25 454.93 L618.49 455.03 L618.73 455.13 L618.97 455.24 L619.20 455.34 L619.44 455.44 L619.67 455.54 L619.90 455.64 L620.13 455.74 L620.35 455.84 L620.58 455.94 L620.80 456.04 L621.01 456.13 L621.03 456.14 L621.25 456.24 L621.47 456.34 L621.69 456.44 L621.90 456.54 L622.12 456.64 L622.33 456.74 L622.54 456.84 L622.75 456.94 L622.96 457.04 L623.17 457.14 L623.38 457.24 L623.58 457.34 L623.78 457.44 L623.99 457.54 L624.15 457.62 L624.18 457.64 L624.38 457.74 L624.58 457.84 L624.77 457.94 L624.97 458.04 L625.16 458.14 L625.35 458.24 L625.54 458.34 L625.73 458.44 L625.91 458.54 L626.10 458.64 L626.28 458.74 L626.46 458.84 L626.64 458.93 L626.82 459.03 L626.99 459.13 L627.17 459.23 L627.29 459.30 L627.34 459.33 L627.51 459.43 L627.68 459.53 L627.85 459.63 L628.02 459.73 L628.18 459.83 L628.35 459.92 L628.51 460.02 L628.67 460.12 L628.83 460.22 L628.99 460.32 L629.14 460.42 L629.30 460.52 L629.45 460.62 L629.60 460.72 L629.75 460.81 L629.90 460.91 L630.04 461.01 L630.19 461.11 L630.33 461.21 L630.44 461.28 L630.47 461.31 L630.62 461.41 L630.75 461.50 L630.89 461.60 L631.03 461.70 L631.16 461.80 L631.29 461.90 L631.42 462.00 L631.55 462.09 L631.68 462.19 L631.81 462.29 L631.93 462.39 L632.05 462.49 L632.18 462.58 L632.30 462.68 L632.41 462.78 L632.53 462.88 L632.65 462.98 L632.76 463.08 L632.87 463.17 L632.98 463.27 L633.09 463.37 L633.20 463.47 L633.30 463.57 L633.41 463.66 L633.51 463.76 L633.60 463.85 L633.61 463.86 L633.71 463.96 L633.81 464.05 L633.90 464.15 L634.00 464.25 L634.09 464.35 L634.18 464.45 L634.27 464.54 L634.36 464.64 L634.45 464.74 L634.53 464.84 L634.61 464.93 L634.70 465.03 L634.78 465.13 L634.86 465.23 L634.93 465.33 L635.01 465.42 L635.08 465.52 L635.15 465.62 L635.22 465.72 L635.29 465.81 L635.36 465.91 L635.43 466.01 L635.49 466.11 L635.55 466.20 L635.62 466.30 L635.68 466.40 L635.73 466.50 L635.79 466.59 L635.84 466.69 L635.90 466.79 L635.95 466.89 L636.00 466.98 L636.05 467.08 L636.10 467.18 L636.14 467.28 L636.18 467.37 L636.23 467.47 L636.27 467.57 L636.31 467.66 L636.34 467.76 L636.38 467.86 L636.41 467.96 L636.45 468.05 L636.48 468.15 L636.51 468.25 L636.53 468.35 L636.56 468.44 L636.59 468.54 L636.61 468.64 L636.63 468.74 L636.65 468.83 L636.67 468.93 L636.68 469.03 L636.70 469.12 L636.71 469.22 L636.73 469.32 L636.74 469.42 L636.74 469.51 L636.75 469.61 L636.76 469.71 L636.76 469.81 L636.76 469.90 L636.76 470.00" stroke="#0000ff" stroke-width="2.2" stroke-dasharray="2.3 2.7" stroke-linejoin="round"/>
<path d="M161.41 265.10 L162.86 268.13 L164.32 271.06 L165.80 273.90 L167.30 276.65 L168.82 279.31 L170.35 281.89 L171.90 284.39 L173.46 286.82 L175.05 289.19 L176.64 291.48 L178.26 293.72 L179.89 295.89 L181.54 298.01 L183.20 300.07 L184.88 302.09 L186.57 304.05 L188.28 305.97 L190.00 307.84 L191.74 309.67 L193.49 311.46 L195.26 313.21 L197.04 314.92 L198.84 316.59 L200.65 318.23 L202.48 319.84 L204.32 321.41 L206.17 322.96 L208.04 324.47 L209.92 325.96 L211.82 327.41 L213.73 328.84 L215.65 330.25 L217.59 331.63 L219.53 332.98 L221.50 334.31 L223.47 335.62 L225.46 336.91 L227.46 338.18 L229.48 339.42 L231.51 340.65 L233.55 341.86 L235.60 343.05 L237.66 344.22 L239.74 345.37 L241.83 346.51 L243.94 347.63 L246.05 348.74 L248.18 349.83 L250.32 350.90 L252.47 351.96 L254.63 353.01 L256.81 354.04 L259.00 355.06 L261.20 356.07 L263.41 357.06 L265.63 358.04 L267.86 359.01 L270.11 359.97 L272.37 360.92 L274.64 361.85 L276.92 362.78 L279.21 363.70 L281.51 364.60 L283.83 365.50 L286.15 366.38 L288.49 367.26 L290.83 368.12 L293.19 368.98 L295.56 369.83 L297.94 370.67 L300.33 371.51 L302.74 372.33 L305.15 373.15 L307.57 373.96 L310.01 374.76 L312.45 375.56 L314.91 376.35 L317.37 377.13 L319.85 377.90 L322.34 378.67 L324.83 379.43 L327.34 380.19 L329.86 380.94 L332.39 381.68 L334.93 382.42 L337.47 383.15 L340.03 383.88 L342.60 384.60 L345.18 385.32 L347.77 386.03 L350.37 386.73 L352.98 387.43 L355.60 388.13 L358.23 388.82 L360.86 389.51 L363.51 390.19 L366.17 390.87 L368.84 391.55 L371.52 392.22 L374.20 392.89 L376.90 393.55 L379.61 394.21 L382.32 394.87 L385.05 395.52 L387.78 396.17 L390.53 396.81 L393.28 397.46 L396.05 398.10 L398.82 398.73 L401.60 399.37 L404.39 400.00 L407.19 400.63 L410.00 401.25 L412.82 401.88 L415.65 402.50 L418.49 403.12 L421.33 403.73 L424.19 404.35 L427.05 404.96 L429.93 405.57 L432.81 406.18 L435.70 406.78 L438.60 407.39 L441.51 407.99 L444.43 408.59 L447.36 409.20 L450.30 409.79 L453.24 410.39 L456.19 410.99 L459.16 411.59 L462.13 412.18 L465.11 412.77 L468.10 413.37 L471.09 413.96 L474.10 414.55 L477.11 415.14 L480.14 415.73 L483.17 416.33 L486.21 416.92 L489.26 417.51 L492.32 418.10 L495.38 418.69 L498.46 419.28 L501.54 419.87 L504.63 420.46 L507.73 421.06 L510.84 421.65 L513.95 422.25 L517.08 422.84 L520.21 423.44 L523.35 424.04 L526.50 424.64 L529.66 425.24 L532.82 425.84 L536.00 426.45 L539.18 427.06 L542.37 427.67 L545.57 428.28 L548.77 428.90 L551.99 429.51 L555.21 430.14 L558.44 430.76 L561.68 431.39 L564.92 432.02 L568.18 432.66 L571.44 433.31 L574.71 433.95 L577.99 434.61 L581.28 435.27 L584.57 435.93 L587.87 436.60 L591.18 437.28 L594.50 437.97 L597.82 438.66 L601.16 439.37 L604.50 440.08 L607.85 440.81 L611.20 441.55 L614.57 442.29 L617.94 443.06 L621.32 443.84 L624.71 444.63 L628.10 445.44 L631.50 446.28 L634.91 447.13 L638.33 448.01 L641.76 448.92 L645.19 449.86 L648.63 450.84 L648.80 450.89 L649.14 450.99 L649.49 451.09 L649.83 451.19 L650.17 451.29 L650.50 451.39 L650.84 451.49 L651.17 451.59 L651.50 451.69 L651.83 451.79 L652.08 451.87 L652.16 451.89 L652.49 451.99 L652.81 452.09 L653.14 452.19 L653.46 452.29 L653.78 452.39 L654.10 452.49 L654.42 452.59 L654.73 452.69 L655.05 452.78 L655.36 452.88 L655.53 452.94 L655.67 452.98 L655.98 453.08 L656.28 453.18 L656.59 453.28 L656.89 453.38 L657.19 453.48 L657.49 453.58 L657.79 453.67 L658.09 453.77 L658.38 453.87 L658.68 453.97 L658.97 454.07 L658.99 454.08 L659.26 454.17 L659.55 454.26 L659.83 454.36 L660.12 454.46 L660.40 454.56 L660.68 454.66 L660.96 454.75 L661.24 454.85 L661.52 454.95 L661.79 455.05 L662.07 455.15 L662.34 455.24 L662.47 455.29 L662.61 455.34 L662.88 455.44 L663.14 455.54 L663.41 455.63 L663.67 455.73 L663.93 455.83 L664.19 455.93 L664.45 456.02 L664.70 456.12 L664.96 456.22 L665.21 456.31 L665.46 456.41 L665.71 456.51 L665.94 456.60 L665.96 456.61 L666.21 456.70 L666.45 456.80 L666.69 456.90 L666.93 456.99 L667.17 457.09 L667.41 457.19 L667.64 457.28 L667.88 457.38 L668.11 457.48 L668.34 457.57 L668.57 457.67 L668.80 457.77 L669.02 457.86 L669.24 457.96 L669.43 458.04 L669.47 458.06 L669.69 458.15 L669.90 458.25 L670.12 458.35 L670.34 458.44 L670.55 458.54 L670.76 458.63 L670.97 458.73 L671.18 458.83 L671.38 458.92 L671.59 459.02 L671.79 459.11 L671.99 459.21 L672.19 459.31 L672.39 459.40 L672.59 459.50 L672.78 459.59 L672.92 459.66 L672.97 459.69 L673.16 459.79 L673.35 459.88 L673.54 459.98 L673.72 460.07 L673.91 460.17 L674.09 460.26 L674.27 460.36 L674.45 460.46 L674.63 460.55 L674.80 460.65 L674.97 460.74 L675.15 460.84 L675.32 460.93 L675.48 461.03 L675.65 461.12 L675.81 461.22 L675.98 461.31 L676.14 461.41 L676.30 461.50 L676.42 461.58 L676.45 461.60 L676.61 461.69 L676.76 461.79 L676.92 461.88 L677.07 461.98 L677.22 462.07 L677.36 462.17 L677.51 462.26 L677.65 462.36 L677.79 462.45 L677.93 462.55 L678.07 462.64 L678.21 462.74 L678.34 462.83 L678.48 462.93 L678.61 463.02 L678.74 463.12 L678.87 463.21 L678.99 463.31 L679.12 463.40 L679.24 463.50 L679.36 463.59 L679.48 463.69 L679.60 463.78 L679.71 463.88 L679.83 463.97 L679.93 464.06 L679.94 464.07 L680.05 464.16 L680.16 464.26 L680.26 464.35 L680.37 464.44 L680.47 464.54 L680.57 464.63 L680.67 464.73 L680.77 464.82 L680.87 464.92 L680.96 465.01 L681.05 465.11 L681.15 465.20 L681.23 465.29 L681.32 465.39 L681.41 465.48 L681.49 465.58 L681.57 465.67 L681.65 465.77 L681.73 465.86 L681.81 465.95 L681.88 466.05 L681.96 466.14 L682.03 466.24 L682.10 466.33 L682.17 466.43 L682.23 466.52 L682.30 466.61 L682.36 466.71 L682.42 466.80 L682.48 466.90 L682.54 466.99 L682.59 467.08 L682.65 467.18 L682.70 467.27 L682.75 467.37 L682.80 467.46 L682.85 467.56 L682.89 467.65 L682.93 467.74 L682.98 467.84 L683.02 467.93 L683.05 468.03 L683.09 468.12 L683.12 468.21 L683.16 468.31 L683.19 468.40 L683.22 468.50 L683.24 468.59 L683.27 468.68 L683.29 468.78 L683.32 468.87 L683.34 468.97 L683.35 469.06 L683.37 469.15 L683.39 469.25 L683.40 469.34 L683.41 469.44 L683.42 469.53 L683.43 469.62 L683.43 469.72 L683.44 469.81 L683.44 469.91 L683.44 470.00" stroke="#0000ff" stroke-width="2.2" stroke-dasharray="2.3 2.7" stroke-linejoin="round"/>
<path d="M167.31 259.78 L168.48 262.13 L169.65 264.42 L170.84 266.66 L172.03 268.86 L173.24 271.00 L174.46 273.10 L175.68 275.15 L176.92 277.17 L178.16 279.14 L179.42 281.07 L180.68 282.96 L181.95 284.82 L183.23 286.64 L184.53 288.43 L185.83 290.19 L187.14 291.91 L188.46 293.61 L189.78 295.27 L191.12 296.91 L192.47 298.51 L193.82 300.09 L195.18 301.65 L196.55 303.18 L197.93 304.69 L199.32 306.17 L200.72 307.63 L202.13 309.07 L203.54 310.49 L204.96 311.88 L206.39 313.26 L207.83 314.61 L209.28 315.95 L210.74 317.27 L212.20 318.57 L213.67 319.85 L215.15 321.12 L216.64 322.37 L218.14 323.61 L219.64 324.82 L221.15 326.03 L222.67 327.22 L224.20 328.39 L225.73 329.55 L227.27 330.70 L228.82 331.83 L230.38 332.95 L231.95 334.06 L233.52 335.15 L235.10 336.24 L236.69 337.31 L238.28 338.37 L239.89 339.42 L241.50 340.46 L243.11 341.49 L244.74 342.50 L246.37 343.51 L248.01 344.51 L249.66 345.50 L251.31 346.48 L252.97 347.45 L254.64 348.41 L256.32 349.36 L258.00 350.30 L259.69 351.24 L261.38 352.17 L263.09 353.08 L264.80 354.00 L266.51 354.90 L268.24 355.80 L269.97 356.69 L271.71 357.57 L273.45 358.44 L275.20 359.31 L276.96 360.17 L278.72 361.03 L280.50 361.88 L282.27 362.72 L284.06 363.56 L285.85 364.39 L287.65 365.22 L289.45 366.04 L291.26 366.85 L293.08 367.66 L294.91 368.47 L296.74 369.27 L298.57 370.06 L300.42 370.85 L302.27 371.64 L304.12 372.42 L305.99 373.19 L307.86 373.96 L309.73 374.73 L311.61 375.49 L313.50 376.25 L315.40 377.01 L317.30 377.76 L319.20 378.51 L321.12 379.25 L323.03 379.99 L324.96 380.73 L326.89 381.46 L328.83 382.19 L330.77 382.92 L332.72 383.64 L334.68 384.37 L336.64 385.09 L338.61 385.80 L340.58 386.51 L342.56 387.22 L344.55 387.93 L346.54 388.64 L348.54 389.34 L350.54 390.04 L352.55 390.74 L354.57 391.44 L356.59 392.14 L358.62 392.83 L360.65 393.52 L362.69 394.21 L364.73 394.90 L366.78 395.59 L368.84 396.27 L370.90 396.96 L372.97 397.64 L375.04 398.32 L377.12 399.00 L379.21 399.68 L381.30 400.36 L383.40 401.04 L385.50 401.72 L387.60 402.39 L389.72 403.07 L391.84 403.75 L393.96 404.42 L396.09 405.10 L398.23 405.78 L400.37 406.45 L402.51 407.13 L404.67 407.81 L406.82 408.48 L408.99 409.16 L411.16 409.84 L413.33 410.52 L415.51 411.20 L417.69 411.88 L419.89 412.56 L422.08 413.25 L424.28 413.93 L426.49 414.62 L428.70 415.31 L430.92 416.00 L433.14 416.69 L435.37 417.39 L437.60 418.09 L439.84 418.79 L442.08 419.49 L444.33 420.20 L446.59 420.91 L448.85 421.63 L451.11 422.35 L453.38 423.07 L455.66 423.80 L457.94 424.53 L460.22 425.27 L462.51 426.01 L464.81 426.76 L467.11 427.52 L469.42 428.28 L471.73 429.05 L474.05 429.82 L476.37 430.61 L478.69 431.40 L481.03 432.21 L483.36 433.02 L485.71 433.85 L488.05 434.68 L490.40 435.53 L492.76 436.40 L495.12 437.28 L497.49 438.17 L499.86 439.09 L502.24 440.02 L504.62 440.98 L507.01 441.96 L509.40 442.96 L511.80 444.00 L514.20 445.07 L516.61 446.18 L519.02 447.34 L519.14 447.40 L519.38 447.51 L519.62 447.63 L519.86 447.75 L520.10 447.87 L520.33 447.99 L520.57 448.10 L520.80 448.22 L521.04 448.34 L521.27 448.46 L521.44 448.54 L521.50 448.57 L521.73 448.69 L521.95 448.81 L522.18 448.93 L522.41 449.04 L522.63 449.16 L522.85 449.28 L523.08 449.40 L523.30 449.51 L523.52 449.63 L523.74 449.75 L523.86 449.81 L523.95 449.86 L524.17 449.98 L524.38 450.10 L524.60 450.21 L524.81 450.33 L525.02 450.45 L525.23 450.56 L525.44 450.68 L525.65 450.80 L525.86 450.91 L526.06 451.03 L526.27 451.14 L526.29 451.15 L526.47 451.26 L526.67 451.38 L526.87 451.49 L527.07 451.61 L527.27 451.72 L527.47 451.84 L527.67 451.96 L527.86 452.07 L528.05 452.19 L528.25 452.30 L528.44 452.42 L528.63 452.53 L528.72 452.59 L528.82 452.65 L529.00 452.76 L529.19 452.88 L529.38 452.99 L529.56 453.11 L529.74 453.22 L529.93 453.34 L530.11 453.45 L530.29 453.57 L530.46 453.68 L530.64 453.80 L530.82 453.91 L530.99 454.03 L531.15 454.14 L531.16 454.14 L531.34 454.26 L531.51 454.37 L531.68 454.49 L531.85 454.60 L532.01 454.72 L532.18 454.83 L532.34 454.95 L532.51 455.06 L532.67 455.17 L532.83 455.29 L532.99 455.40 L533.15 455.52 L533.31 455.63 L533.47 455.74 L533.59 455.84 L533.62 455.86 L533.78 455.97 L533.93 456.09 L534.08 456.20 L534.23 456.31 L534.38 456.43 L534.53 456.54 L534.67 456.66 L534.82 456.77 L534.96 456.88 L535.11 457.00 L535.25 457.11 L535.39 457.22 L535.53 457.34 L535.67 457.45 L535.81 457.56 L535.94 457.68 L536.04 457.76 L536.08 457.79 L536.21 457.90 L536.34 458.02 L536.47 458.13 L536.60 458.24 L536.73 458.36 L536.86 458.47 L536.99 458.58 L537.11 458.70 L537.23 458.81 L537.36 458.92 L537.48 459.04 L537.60 459.15 L537.72 459.26 L537.83 459.37 L537.95 459.49 L538.07 459.60 L538.18 459.71 L538.29 459.83 L538.40 459.94 L538.49 460.03 L538.51 460.05 L538.62 460.16 L538.73 460.28 L538.84 460.39 L538.94 460.50 L539.05 460.61 L539.15 460.73 L539.25 460.84 L539.35 460.95 L539.45 461.06 L539.55 461.18 L539.65 461.29 L539.74 461.40 L539.84 461.51 L539.93 461.63 L540.02 461.74 L540.11 461.85 L540.20 461.96 L540.29 462.07 L540.38 462.19 L540.46 462.30 L540.55 462.41 L540.63 462.52 L540.71 462.63 L540.80 462.75 L540.87 462.86 L540.95 462.96 L540.95 462.97 L541.03 463.08 L541.11 463.19 L541.18 463.31 L541.25 463.42 L541.33 463.53 L541.40 463.64 L541.47 463.75 L541.54 463.87 L541.60 463.98 L541.67 464.09 L541.73 464.20 L541.80 464.31 L541.86 464.43 L541.92 464.54 L541.98 464.65 L542.04 464.76 L542.10 464.87 L542.15 464.98 L542.21 465.10 L542.26 465.21 L542.32 465.32 L542.37 465.43 L542.42 465.54 L542.47 465.65 L542.51 465.77 L542.56 465.88 L542.61 465.99 L542.65 466.10 L542.69 466.21 L542.73 466.32 L542.77 466.43 L542.81 466.55 L542.85 466.66 L542.89 466.77 L542.92 466.88 L542.96 466.99 L542.99 467.10 L543.02 467.22 L543.05 467.33 L543.08 467.44 L543.11 467.55 L543.13 467.66 L543.16 467.77 L543.18 467.88 L543.21 468.00 L543.23 468.11 L543.25 468.22 L543.27 468.33 L543.29 468.44 L543.30 468.55 L543.32 468.66 L543.33 468.78 L543.35 468.89 L543.36 469.00 L543.37 469.11 L543.38 469.22 L543.38 469.33 L543.39 469.44 L543.40 469.55 L543.40 469.67 L543.40 469.78 L543.41 469.89 L543.41 470.00" stroke="#ffa500" stroke-width="2.3" stroke-linejoin="round"/>
<path d="M165.05 256.80 L166.32 259.44 L167.59 262.01 L168.88 264.51 L170.19 266.95 L171.50 269.33 L172.83 271.65 L174.17 273.92 L175.52 276.13 L176.88 278.29 L178.25 280.40 L179.64 282.47 L181.03 284.49 L182.44 286.47 L183.86 288.40 L185.29 290.30 L186.73 292.15 L188.19 293.97 L189.65 295.76 L191.12 297.51 L192.61 299.23 L194.10 300.91 L195.61 302.57 L197.13 304.19 L198.66 305.79 L200.19 307.36 L201.74 308.90 L203.30 310.41 L204.87 311.91 L206.45 313.37 L208.04 314.82 L209.63 316.24 L211.24 317.64 L212.86 319.01 L214.49 320.37 L216.13 321.71 L217.78 323.02 L219.43 324.32 L221.10 325.60 L222.78 326.87 L224.46 328.11 L226.16 329.34 L227.86 330.55 L229.58 331.75 L231.30 332.93 L233.03 334.09 L234.78 335.25 L236.53 336.38 L238.29 337.51 L240.06 338.62 L241.83 339.71 L243.62 340.80 L245.42 341.87 L247.22 342.93 L249.03 343.97 L250.86 345.01 L252.69 346.04 L254.53 347.05 L256.38 348.05 L258.23 349.05 L260.10 350.03 L261.97 351.00 L263.85 351.97 L265.75 352.92 L267.64 353.87 L269.55 354.80 L271.47 355.73 L273.39 356.65 L275.32 357.56 L277.27 358.46 L279.21 359.36 L281.17 360.24 L283.14 361.12 L285.11 362.00 L287.09 362.86 L289.08 363.72 L291.08 364.57 L293.08 365.41 L295.10 366.25 L297.12 367.08 L299.15 367.91 L301.18 368.73 L303.23 369.54 L305.28 370.35 L307.34 371.15 L309.41 371.95 L311.48 372.74 L313.57 373.53 L315.66 374.31 L317.76 375.08 L319.86 375.85 L321.98 376.62 L324.10 377.38 L326.23 378.14 L328.36 378.89 L330.51 379.64 L332.66 380.38 L334.81 381.13 L336.98 381.86 L339.15 382.59 L341.33 383.32 L343.52 384.05 L345.72 384.77 L347.92 385.49 L350.13 386.20 L352.34 386.92 L354.57 387.63 L356.80 388.33 L359.04 389.03 L361.28 389.73 L363.53 390.43 L365.79 391.13 L368.06 391.82 L370.33 392.51 L372.61 393.20 L374.90 393.88 L377.19 394.56 L379.50 395.24 L381.80 395.92 L384.12 396.60 L386.44 397.28 L388.77 397.95 L391.10 398.62 L393.45 399.29 L395.80 399.96 L398.15 400.63 L400.51 401.30 L402.88 401.96 L405.26 402.63 L407.64 403.29 L410.03 403.95 L412.43 404.61 L414.83 405.28 L417.24 405.94 L419.66 406.60 L422.08 407.26 L424.51 407.92 L426.94 408.58 L429.39 409.24 L431.83 409.90 L434.29 410.56 L436.75 411.22 L439.22 411.88 L441.69 412.54 L444.17 413.20 L446.66 413.87 L449.16 414.53 L451.66 415.20 L454.16 415.86 L456.68 416.53 L459.19 417.20 L461.72 417.87 L464.25 418.55 L466.79 419.22 L469.33 419.90 L471.89 420.58 L474.44 421.27 L477.01 421.95 L479.57 422.64 L482.15 423.34 L484.73 424.03 L487.32 424.73 L489.91 425.44 L492.51 426.15 L495.12 426.86 L497.73 427.58 L500.35 428.31 L502.97 429.04 L505.61 429.78 L508.24 430.52 L510.88 431.27 L513.53 432.03 L516.19 432.80 L518.85 433.58 L521.51 434.37 L524.19 435.16 L526.87 435.97 L529.55 436.79 L532.24 437.63 L534.94 438.48 L537.64 439.34 L540.35 440.23 L543.06 441.13 L545.78 442.05 L548.51 443.00 L551.24 443.97 L553.98 444.97 L556.72 446.00 L559.47 447.07 L562.22 448.18 L562.36 448.24 L562.64 448.35 L562.91 448.47 L563.18 448.58 L563.45 448.69 L563.72 448.81 L563.99 448.92 L564.26 449.04 L564.52 449.15 L564.79 449.26 L564.98 449.35 L565.05 449.38 L565.31 449.49 L565.57 449.60 L565.83 449.71 L566.09 449.83 L566.35 449.94 L566.60 450.05 L566.86 450.17 L567.11 450.28 L567.36 450.39 L567.61 450.50 L567.75 450.57 L567.86 450.62 L568.11 450.73 L568.35 450.84 L568.60 450.95 L568.84 451.07 L569.08 451.18 L569.32 451.29 L569.56 451.40 L569.80 451.51 L570.03 451.63 L570.27 451.74 L570.50 451.85 L570.52 451.86 L570.73 451.96 L570.96 452.07 L571.19 452.19 L571.42 452.30 L571.65 452.41 L571.87 452.52 L572.10 452.63 L572.32 452.74 L572.54 452.85 L572.76 452.97 L572.98 453.08 L573.20 453.19 L573.30 453.24 L573.41 453.30 L573.63 453.41 L573.84 453.52 L574.05 453.63 L574.26 453.74 L574.47 453.85 L574.68 453.97 L574.89 454.08 L575.09 454.19 L575.30 454.30 L575.50 454.41 L575.70 454.52 L575.90 454.63 L576.08 454.73 L576.10 454.74 L576.29 454.85 L576.49 454.96 L576.68 455.07 L576.87 455.18 L577.07 455.29 L577.26 455.40 L577.44 455.51 L577.63 455.62 L577.82 455.73 L578.00 455.84 L578.18 455.95 L578.37 456.06 L578.55 456.17 L578.73 456.28 L578.87 456.37 L578.90 456.39 L579.08 456.50 L579.25 456.61 L579.43 456.72 L579.60 456.83 L579.77 456.94 L579.94 457.05 L580.11 457.16 L580.27 457.27 L580.44 457.38 L580.60 457.49 L580.76 457.60 L580.92 457.71 L581.08 457.81 L581.24 457.92 L581.40 458.03 L581.55 458.14 L581.67 458.22 L581.71 458.25 L581.86 458.36 L582.01 458.47 L582.16 458.58 L582.31 458.69 L582.46 458.80 L582.60 458.91 L582.75 459.01 L582.89 459.12 L583.03 459.23 L583.17 459.34 L583.31 459.45 L583.45 459.56 L583.58 459.67 L583.72 459.78 L583.85 459.88 L583.98 459.99 L584.11 460.10 L584.24 460.21 L584.37 460.32 L584.47 460.40 L584.49 460.43 L584.62 460.53 L584.74 460.64 L584.86 460.75 L584.99 460.86 L585.10 460.97 L585.22 461.08 L585.34 461.18 L585.45 461.29 L585.57 461.40 L585.68 461.51 L585.79 461.62 L585.90 461.73 L586.01 461.83 L586.11 461.94 L586.22 462.05 L586.32 462.16 L586.42 462.27 L586.53 462.37 L586.62 462.48 L586.72 462.59 L586.82 462.70 L586.91 462.81 L587.01 462.91 L587.10 463.02 L587.19 463.13 L587.27 463.23 L587.28 463.24 L587.37 463.34 L587.46 463.45 L587.54 463.56 L587.63 463.67 L587.71 463.78 L587.79 463.88 L587.87 463.99 L587.95 464.10 L588.02 464.21 L588.10 464.31 L588.17 464.42 L588.25 464.53 L588.32 464.64 L588.39 464.74 L588.46 464.85 L588.52 464.96 L588.59 465.07 L588.65 465.17 L588.72 465.28 L588.78 465.39 L588.84 465.50 L588.90 465.60 L588.95 465.71 L589.01 465.82 L589.06 465.93 L589.12 466.03 L589.17 466.14 L589.22 466.25 L589.27 466.36 L589.32 466.46 L589.36 466.57 L589.41 466.68 L589.45 466.78 L589.49 466.89 L589.53 467.00 L589.57 467.11 L589.61 467.21 L589.64 467.32 L589.68 467.43 L589.71 467.54 L589.74 467.64 L589.77 467.75 L589.80 467.86 L589.83 467.96 L589.86 468.07 L589.88 468.18 L589.90 468.29 L589.93 468.39 L589.95 468.50 L589.97 468.61 L589.98 468.71 L590.00 468.82 L590.01 468.93 L590.03 469.04 L590.04 469.14 L590.05 469.25 L590.06 469.36 L590.07 469.46 L590.07 469.57 L590.08 469.68 L590.08 469.79 L590.09 469.89 L590.09 470.00" stroke="#ffa500" stroke-width="2.3" stroke-linejoin="round"/>
<path d="M163.11 254.39 L164.47 257.32 L165.84 260.16 L167.23 262.93 L168.63 265.61 L170.05 268.21 L171.48 270.75 L172.92 273.21 L174.38 275.62 L175.86 277.96 L177.35 280.24 L178.85 282.46 L180.36 284.63 L181.89 286.75 L183.44 288.82 L184.99 290.84 L186.56 292.82 L188.14 294.75 L189.74 296.64 L191.35 298.50 L192.97 300.31 L194.60 302.09 L196.25 303.83 L197.91 305.54 L199.58 307.21 L201.26 308.85 L202.96 310.46 L204.66 312.05 L206.38 313.60 L208.11 315.13 L209.86 316.63 L211.61 318.10 L213.38 319.55 L215.16 320.98 L216.95 322.38 L218.75 323.76 L220.56 325.12 L222.39 326.45 L224.22 327.77 L226.07 329.07 L227.93 330.35 L229.80 331.60 L231.68 332.85 L233.57 334.07 L235.47 335.28 L237.38 336.47 L239.30 337.64 L241.24 338.80 L243.18 339.94 L245.14 341.07 L247.10 342.18 L249.08 343.28 L251.07 344.37 L253.06 345.44 L255.07 346.50 L257.09 347.55 L259.12 348.59 L261.15 349.61 L263.20 350.63 L265.26 351.63 L267.33 352.62 L269.41 353.60 L271.49 354.57 L273.59 355.53 L275.70 356.48 L277.82 357.42 L279.94 358.35 L282.08 359.27 L284.23 360.18 L286.38 361.09 L288.55 361.98 L290.72 362.87 L292.91 363.75 L295.10 364.62 L297.30 365.49 L299.51 366.34 L301.74 367.19 L303.97 368.03 L306.21 368.87 L308.46 369.70 L310.71 370.52 L312.98 371.33 L315.26 372.14 L317.54 372.94 L319.84 373.74 L322.14 374.53 L324.46 375.32 L326.78 376.10 L329.11 376.87 L331.45 377.64 L333.80 378.40 L336.15 379.16 L338.52 379.92 L340.89 380.67 L343.27 381.41 L345.67 382.15 L348.07 382.89 L350.47 383.62 L352.89 384.35 L355.32 385.07 L357.75 385.79 L360.19 386.50 L362.65 387.22 L365.11 387.92 L367.57 388.63 L370.05 389.33 L372.53 390.03 L375.03 390.72 L377.53 391.41 L380.04 392.10 L382.55 392.79 L385.08 393.47 L387.61 394.15 L390.16 394.83 L392.71 395.50 L395.26 396.17 L397.83 396.84 L400.40 397.51 L402.99 398.18 L405.58 398.84 L408.17 399.50 L410.78 400.16 L413.39 400.82 L416.02 401.48 L418.65 402.13 L421.28 402.79 L423.93 403.44 L426.58 404.09 L429.24 404.74 L431.91 405.39 L434.59 406.03 L437.27 406.68 L439.96 407.33 L442.66 407.97 L445.37 408.62 L448.08 409.26 L450.80 409.91 L453.53 410.55 L456.27 411.19 L459.02 411.84 L461.77 412.48 L464.53 413.12 L467.30 413.77 L470.07 414.41 L472.85 415.06 L475.64 415.70 L478.44 416.35 L481.24 417.00 L484.05 417.65 L486.87 418.30 L489.70 418.95 L492.53 419.60 L495.37 420.26 L498.22 420.91 L501.08 421.57 L503.94 422.23 L506.81 422.90 L509.68 423.56 L512.57 424.23 L515.46 424.91 L518.36 425.58 L521.26 426.26 L524.17 426.95 L527.09 427.64 L530.02 428.33 L532.95 429.03 L535.89 429.73 L538.84 430.44 L541.80 431.15 L544.76 431.87 L547.73 432.60 L550.70 433.34 L553.68 434.08 L556.67 434.84 L559.67 435.60 L562.67 436.37 L565.68 437.15 L568.70 437.95 L571.72 438.75 L574.75 439.58 L577.79 440.41 L580.83 441.27 L583.88 442.14 L586.94 443.03 L590.00 443.94 L593.08 444.88 L596.15 445.85 L599.24 446.84 L602.33 447.88 L605.43 448.95 L605.58 449.01 L605.89 449.12 L606.20 449.23 L606.50 449.34 L606.81 449.45 L607.11 449.56 L607.41 449.67 L607.71 449.78 L608.01 449.89 L608.31 450.00 L608.53 450.08 L608.61 450.10 L608.90 450.21 L609.19 450.32 L609.49 450.43 L609.78 450.54 L610.06 450.65 L610.35 450.76 L610.64 450.87 L610.92 450.98 L611.20 451.09 L611.48 451.19 L611.64 451.26 L611.76 451.30 L612.04 451.41 L612.32 451.52 L612.59 451.63 L612.86 451.74 L613.14 451.85 L613.41 451.95 L613.68 452.06 L613.94 452.17 L614.21 452.28 L614.47 452.39 L614.74 452.49 L614.76 452.50 L615.00 452.60 L615.26 452.71 L615.51 452.82 L615.77 452.93 L616.03 453.03 L616.28 453.14 L616.53 453.25 L616.78 453.36 L617.03 453.46 L617.28 453.57 L617.52 453.68 L617.77 453.79 L617.88 453.84 L618.01 453.89 L618.25 454.00 L618.49 454.11 L618.73 454.21 L618.97 454.32 L619.20 454.43 L619.44 454.53 L619.67 454.64 L619.90 454.75 L620.13 454.86 L620.35 454.96 L620.58 455.07 L620.80 455.18 L621.01 455.27 L621.03 455.28 L621.25 455.39 L621.47 455.49 L621.69 455.60 L621.90 455.71 L622.12 455.81 L622.33 455.92 L622.54 456.03 L622.75 456.13 L622.96 456.24 L623.17 456.35 L623.38 456.45 L623.58 456.56 L623.78 456.66 L623.99 456.77 L624.15 456.86 L624.18 456.88 L624.38 456.98 L624.58 457.09 L624.77 457.19 L624.97 457.30 L625.16 457.40 L625.35 457.51 L625.54 457.62 L625.73 457.72 L625.91 457.83 L626.10 457.93 L626.28 458.04 L626.46 458.14 L626.64 458.25 L626.82 458.35 L626.99 458.46 L627.17 458.56 L627.29 458.64 L627.34 458.67 L627.51 458.78 L627.68 458.88 L627.85 458.99 L628.02 459.09 L628.18 459.20 L628.35 459.30 L628.51 459.41 L628.67 459.51 L628.83 459.62 L628.99 459.72 L629.14 459.83 L629.30 459.93 L629.45 460.04 L629.60 460.14 L629.75 460.24 L629.90 460.35 L630.04 460.45 L630.19 460.56 L630.33 460.66 L630.44 460.74 L630.47 460.77 L630.62 460.87 L630.75 460.98 L630.89 461.08 L631.03 461.19 L631.16 461.29 L631.29 461.39 L631.42 461.50 L631.55 461.60 L631.68 461.71 L631.81 461.81 L631.93 461.92 L632.05 462.02 L632.18 462.13 L632.30 462.23 L632.41 462.33 L632.53 462.44 L632.65 462.54 L632.76 462.65 L632.87 462.75 L632.98 462.85 L633.09 462.96 L633.20 463.06 L633.30 463.17 L633.41 463.27 L633.51 463.37 L633.60 463.47 L633.61 463.48 L633.71 463.58 L633.81 463.69 L633.90 463.79 L634.00 463.89 L634.09 464.00 L634.18 464.10 L634.27 464.21 L634.36 464.31 L634.45 464.41 L634.53 464.52 L634.61 464.62 L634.70 464.72 L634.78 464.83 L634.86 464.93 L634.93 465.04 L635.01 465.14 L635.08 465.24 L635.15 465.35 L635.22 465.45 L635.29 465.55 L635.36 465.66 L635.43 465.76 L635.49 465.86 L635.55 465.97 L635.62 466.07 L635.68 466.17 L635.73 466.28 L635.79 466.38 L635.84 466.49 L635.90 466.59 L635.95 466.69 L636.00 466.80 L636.05 466.90 L636.10 467.00 L636.14 467.11 L636.18 467.21 L636.23 467.31 L636.27 467.42 L636.31 467.52 L636.34 467.62 L636.38 467.73 L636.41 467.83 L636.45 467.93 L636.48 468.04 L636.51 468.14 L636.53 468.24 L636.56 468.35 L636.59 468.45 L636.61 468.55 L636.63 468.66 L636.65 468.76 L636.67 468.86 L636.68 468.97 L636.70 469.07 L636.71 469.17 L636.73 469.28 L636.74 469.38 L636.74 469.48 L636.75 469.59 L636.76 469.69 L636.76 469.79 L636.76 469.90 L636.76 470.00" stroke="#ffa500" stroke-width="2.3" stroke-linejoin="round"/>
<path d="M161.41 252.40 L162.86 255.62 L164.32 258.74 L165.80 261.75 L167.30 264.67 L168.82 267.49 L170.35 270.23 L171.90 272.89 L173.46 275.47 L175.05 277.98 L176.64 280.42 L178.26 282.79 L179.89 285.10 L181.54 287.35 L183.20 289.54 L184.88 291.68 L186.57 293.77 L188.28 295.80 L190.00 297.79 L191.74 299.74 L193.49 301.63 L195.26 303.49 L197.04 305.31 L198.84 307.09 L200.65 308.83 L202.48 310.54 L204.32 312.21 L206.17 313.85 L208.04 315.45 L209.92 317.03 L211.82 318.58 L213.73 320.10 L215.65 321.59 L217.59 323.05 L219.53 324.49 L221.50 325.91 L223.47 327.30 L225.46 328.66 L227.46 330.01 L229.48 331.33 L231.51 332.64 L233.55 333.92 L235.60 335.18 L237.66 336.43 L239.74 337.65 L241.83 338.86 L243.94 340.05 L246.05 341.22 L248.18 342.38 L250.32 343.52 L252.47 344.65 L254.63 345.76 L256.81 346.86 L259.00 347.94 L261.20 349.01 L263.41 350.06 L265.63 351.11 L267.86 352.14 L270.11 353.15 L272.37 354.16 L274.64 355.15 L276.92 356.14 L279.21 357.11 L281.51 358.07 L283.83 359.02 L286.15 359.96 L288.49 360.89 L290.83 361.81 L293.19 362.72 L295.56 363.63 L297.94 364.52 L300.33 365.40 L302.74 366.28 L305.15 367.15 L307.57 368.01 L310.01 368.86 L312.45 369.71 L314.91 370.54 L317.37 371.37 L319.85 372.20 L322.34 373.01 L324.83 373.82 L327.34 374.62 L329.86 375.42 L332.39 376.21 L334.93 376.99 L337.47 377.77 L340.03 378.54 L342.60 379.31 L345.18 380.07 L347.77 380.82 L350.37 381.57 L352.98 382.32 L355.60 383.06 L358.23 383.79 L360.86 384.52 L363.51 385.25 L366.17 385.97 L368.84 386.69 L371.52 387.40 L374.20 388.11 L376.90 388.81 L379.61 389.51 L382.32 390.21 L385.05 390.90 L387.78 391.59 L390.53 392.28 L393.28 392.96 L396.05 393.64 L398.82 394.32 L401.60 394.99 L404.39 395.66 L407.19 396.33 L410.00 396.99 L412.82 397.66 L415.65 398.31 L418.49 398.97 L421.33 399.63 L424.19 400.28 L427.05 400.93 L429.93 401.58 L432.81 402.22 L435.70 402.87 L438.60 403.51 L441.51 404.15 L444.43 404.79 L447.36 405.43 L450.30 406.06 L453.24 406.70 L456.19 407.33 L459.16 407.97 L462.13 408.60 L465.11 409.23 L468.10 409.86 L471.09 410.49 L474.10 411.12 L477.11 411.74 L480.14 412.37 L483.17 413.00 L486.21 413.63 L489.26 414.25 L492.32 414.88 L495.38 415.51 L498.46 416.14 L501.54 416.77 L504.63 417.40 L507.73 418.03 L510.84 418.66 L513.95 419.29 L517.08 419.92 L520.21 420.55 L523.35 421.19 L526.50 421.83 L529.66 422.47 L532.82 423.11 L536.00 423.75 L539.18 424.40 L542.37 425.04 L545.57 425.69 L548.77 426.35 L551.99 427.01 L555.21 427.67 L558.44 428.33 L561.68 429.00 L564.92 429.67 L568.18 430.35 L571.44 431.03 L574.71 431.72 L577.99 432.41 L581.28 433.11 L584.57 433.82 L587.87 434.53 L591.18 435.25 L594.50 435.98 L597.82 436.72 L601.16 437.47 L604.50 438.23 L607.85 439.00 L611.20 439.78 L614.57 440.58 L617.94 441.39 L621.32 442.21 L624.71 443.06 L628.10 443.92 L631.50 444.81 L634.91 445.71 L638.33 446.65 L641.76 447.62 L645.19 448.62 L648.63 449.66 L648.80 449.71 L649.14 449.81 L649.49 449.92 L649.83 450.03 L650.17 450.13 L650.50 450.24 L650.84 450.35 L651.17 450.45 L651.50 450.56 L651.83 450.66 L652.08 450.74 L652.16 450.77 L652.49 450.87 L652.81 450.98 L653.14 451.09 L653.46 451.19 L653.78 451.30 L654.10 451.40 L654.42 451.51 L654.73 451.61 L655.05 451.72 L655.36 451.82 L655.53 451.88 L655.67 451.93 L655.98 452.03 L656.28 452.14 L656.59 452.24 L656.89 452.35 L657.19 452.45 L657.49 452.56 L657.79 452.66 L658.09 452.77 L658.38 452.87 L658.68 452.98 L658.97 453.08 L658.99 453.09 L659.26 453.18 L659.55 453.29 L659.83 453.39 L660.12 453.50 L660.40 453.60 L660.68 453.71 L660.96 453.81 L661.24 453.91 L661.52 454.02 L661.79 454.12 L662.07 454.22 L662.34 454.33 L662.47 454.38 L662.61 454.43 L662.88 454.54 L663.14 454.64 L663.41 454.74 L663.67 454.85 L663.93 454.95 L664.19 455.05 L664.45 455.16 L664.70 455.26 L664.96 455.36 L665.21 455.47 L665.46 455.57 L665.71 455.67 L665.94 455.77 L665.96 455.78 L666.21 455.88 L666.45 455.98 L666.69 456.08 L666.93 456.19 L667.17 456.29 L667.41 456.39 L667.64 456.50 L667.88 456.60 L668.11 456.70 L668.34 456.80 L668.57 456.91 L668.80 457.01 L669.02 457.11 L669.24 457.21 L669.43 457.30 L669.47 457.32 L669.69 457.42 L669.90 457.52 L670.12 457.62 L670.34 457.73 L670.55 457.83 L670.76 457.93 L670.97 458.03 L671.18 458.13 L671.38 458.24 L671.59 458.34 L671.79 458.44 L671.99 458.54 L672.19 458.64 L672.39 458.75 L672.59 458.85 L672.78 458.95 L672.92 459.02 L672.97 459.05 L673.16 459.15 L673.35 459.25 L673.54 459.36 L673.72 459.46 L673.91 459.56 L674.09 459.66 L674.27 459.76 L674.45 459.86 L674.63 459.97 L674.80 460.07 L674.97 460.17 L675.15 460.27 L675.32 460.37 L675.48 460.47 L675.65 460.57 L675.81 460.67 L675.98 460.78 L676.14 460.88 L676.30 460.98 L676.42 461.06 L676.45 461.08 L676.61 461.18 L676.76 461.28 L676.92 461.38 L677.07 461.48 L677.22 461.58 L677.36 461.68 L677.51 461.79 L677.65 461.89 L677.79 461.99 L677.93 462.09 L678.07 462.19 L678.21 462.29 L678.34 462.39 L678.48 462.49 L678.61 462.59 L678.74 462.69 L678.87 462.79 L678.99 462.89 L679.12 462.99 L679.24 463.10 L679.36 463.20 L679.48 463.30 L679.60 463.40 L679.71 463.50 L679.83 463.60 L679.93 463.69 L679.94 463.70 L680.05 463.80 L680.16 463.90 L680.26 464.00 L680.37 464.10 L680.47 464.20 L680.57 464.30 L680.67 464.40 L680.77 464.50 L680.87 464.60 L680.96 464.70 L681.05 464.80 L681.15 464.90 L681.23 465.00 L681.32 465.10 L681.41 465.20 L681.49 465.30 L681.57 465.40 L681.65 465.50 L681.73 465.60 L681.81 465.70 L681.88 465.80 L681.96 465.90 L682.03 466.00 L682.10 466.10 L682.17 466.20 L682.23 466.30 L682.30 466.40 L682.36 466.50 L682.42 466.60 L682.48 466.70 L682.54 466.80 L682.59 466.90 L682.65 467.00 L682.70 467.10 L682.75 467.20 L682.80 467.30 L682.85 467.40 L682.89 467.50 L682.93 467.60 L682.98 467.70 L683.02 467.80 L683.05 467.90 L683.09 468.00 L683.12 468.10 L683.16 468.20 L683.19 468.30 L683.22 468.40 L683.24 468.50 L683.27 468.60 L683.29 468.70 L683.32 468.80 L683.34 468.90 L683.35 469.00 L683.37 469.10 L683.39 469.20 L683.40 469.30 L683.41 469.40 L683.42 469.50 L683.43 469.60 L683.43 469.70 L683.44 469.80 L683.44 469.90 L683.44 470.00" stroke="#ffa500" stroke-width="2.3" stroke-linejoin="round"/>
<path d="M167.31 87.39 L168.48 91.67 L169.65 95.84 L170.84 99.92 L172.03 103.91 L173.24 107.82 L174.46 111.64 L175.68 115.38 L176.92 119.04 L178.16 122.63 L179.42 126.14 L180.68 129.59 L181.95 132.97 L183.23 136.29 L184.53 139.54 L185.83 142.74 L187.14 145.88 L188.46 148.96 L189.78 151.99 L191.12 154.96 L192.47 157.89 L193.82 160.77 L195.18 163.60 L196.55 166.39 L197.93 169.13 L199.32 171.83 L200.72 174.48 L202.13 177.10 L203.54 179.68 L204.96 182.22 L206.39 184.73 L207.83 187.19 L209.28 189.63 L210.74 192.03 L212.20 194.40 L213.67 196.73 L215.15 199.04 L216.64 201.31 L218.14 203.56 L219.64 205.78 L221.15 207.97 L222.67 210.13 L224.20 212.27 L225.73 214.38 L227.27 216.47 L228.82 218.53 L230.38 220.57 L231.95 222.59 L233.52 224.58 L235.10 226.55 L236.69 228.50 L238.28 230.43 L239.89 232.34 L241.50 234.23 L243.11 236.10 L244.74 237.96 L246.37 239.79 L248.01 241.61 L249.66 243.40 L251.31 245.19 L252.97 246.95 L254.64 248.70 L256.32 250.43 L258.00 252.15 L259.69 253.85 L261.38 255.54 L263.09 257.21 L264.80 258.87 L266.51 260.52 L268.24 262.15 L269.97 263.77 L271.71 265.37 L273.45 266.97 L275.20 268.55 L276.96 270.12 L278.72 271.67 L280.50 273.22 L282.27 274.75 L284.06 276.28 L285.85 277.79 L287.65 279.30 L289.45 280.79 L291.26 282.27 L293.08 283.74 L294.91 285.21 L296.74 286.66 L298.57 288.11 L300.42 289.55 L302.27 290.98 L304.12 292.40 L305.99 293.81 L307.86 295.21 L309.73 296.61 L311.61 298.00 L313.50 299.38 L315.40 300.75 L317.30 302.12 L319.20 303.48 L321.12 304.84 L323.03 306.18 L324.96 307.52 L326.89 308.86 L328.83 310.19 L330.77 311.51 L332.72 312.83 L334.68 314.15 L336.64 315.45 L338.61 316.76 L340.58 318.05 L342.56 319.35 L344.55 320.64 L346.54 321.92 L348.54 323.20 L350.54 324.48 L352.55 325.75 L354.57 327.02 L356.59 328.28 L358.62 329.55 L360.65 330.81 L362.69 332.06 L364.73 333.31 L366.78 334.56 L368.84 335.81 L370.90 337.06 L372.97 338.30 L375.04 339.54 L377.12 340.78 L379.21 342.02 L381.30 343.25 L383.40 344.49 L385.50 345.72 L387.60 346.96 L389.72 348.19 L391.84 349.42 L393.96 350.65 L396.09 351.88 L398.23 353.11 L400.37 354.34 L402.51 355.57 L404.67 356.80 L406.82 358.04 L408.99 359.27 L411.16 360.51 L413.33 361.74 L415.51 362.98 L417.69 364.22 L419.89 365.46 L422.08 366.71 L424.28 367.96 L426.49 369.21 L428.70 370.46 L430.92 371.72 L433.14 372.98 L435.37 374.25 L437.60 375.52 L439.84 376.80 L442.08 378.08 L444.33 379.37 L446.59 380.66 L448.85 381.96 L451.11 383.27 L453.38 384.59 L455.66 385.91 L457.94 387.24 L460.22 388.59 L462.51 389.94 L464.81 391.30 L467.11 392.68 L469.42 394.06 L471.73 395.46 L474.05 396.88 L476.37 398.31 L478.69 399.75 L481.03 401.22 L483.36 402.70 L485.71 404.20 L488.05 405.73 L490.40 407.27 L492.76 408.85 L495.12 410.45 L497.49 412.08 L499.86 413.74 L502.24 415.44 L504.62 417.18 L507.01 418.96 L509.40 420.80 L511.80 422.68 L514.20 424.63 L516.61 426.65 L519.02 428.75 L519.14 428.86 L519.38 429.08 L519.62 429.29 L519.86 429.51 L520.10 429.72 L520.33 429.94 L520.57 430.15 L520.80 430.36 L521.04 430.58 L521.27 430.79 L521.44 430.95 L521.50 431.01 L521.73 431.22 L521.95 431.43 L522.18 431.65 L522.41 431.86 L522.63 432.07 L522.85 432.29 L523.08 432.50 L523.30 432.71 L523.52 432.93 L523.74 433.14 L523.86 433.26 L523.95 433.35 L524.17 433.56 L524.38 433.78 L524.60 433.99 L524.81 434.20 L525.02 434.41 L525.23 434.62 L525.44 434.84 L525.65 435.05 L525.86 435.26 L526.06 435.47 L526.27 435.68 L526.29 435.70 L526.47 435.89 L526.67 436.10 L526.87 436.31 L527.07 436.53 L527.27 436.74 L527.47 436.95 L527.67 437.16 L527.86 437.37 L528.05 437.58 L528.25 437.79 L528.44 438.00 L528.63 438.21 L528.72 438.31 L528.82 438.42 L529.00 438.63 L529.19 438.84 L529.38 439.05 L529.56 439.26 L529.74 439.47 L529.93 439.68 L530.11 439.89 L530.29 440.10 L530.46 440.31 L530.64 440.51 L530.82 440.72 L530.99 440.93 L531.15 441.13 L531.16 441.14 L531.34 441.35 L531.51 441.56 L531.68 441.77 L531.85 441.98 L532.01 442.18 L532.18 442.39 L532.34 442.60 L532.51 442.81 L532.67 443.02 L532.83 443.22 L532.99 443.43 L533.15 443.64 L533.31 443.85 L533.47 444.06 L533.59 444.23 L533.62 444.26 L533.78 444.47 L533.93 444.68 L534.08 444.88 L534.23 445.09 L534.38 445.30 L534.53 445.51 L534.67 445.71 L534.82 445.92 L534.96 446.13 L535.11 446.33 L535.25 446.54 L535.39 446.75 L535.53 446.95 L535.67 447.16 L535.81 447.37 L535.94 447.57 L536.04 447.72 L536.08 447.78 L536.21 447.99 L536.34 448.19 L536.47 448.40 L536.60 448.60 L536.73 448.81 L536.86 449.02 L536.99 449.22 L537.11 449.43 L537.23 449.63 L537.36 449.84 L537.48 450.04 L537.60 450.25 L537.72 450.46 L537.83 450.66 L537.95 450.87 L538.07 451.07 L538.18 451.28 L538.29 451.48 L538.40 451.69 L538.49 451.85 L538.51 451.89 L538.62 452.10 L538.73 452.30 L538.84 452.51 L538.94 452.71 L539.05 452.92 L539.15 453.12 L539.25 453.33 L539.35 453.53 L539.45 453.74 L539.55 453.94 L539.65 454.14 L539.74 454.35 L539.84 454.55 L539.93 454.76 L540.02 454.96 L540.11 455.17 L540.20 455.37 L540.29 455.57 L540.38 455.78 L540.46 455.98 L540.55 456.19 L540.63 456.39 L540.71 456.60 L540.80 456.80 L540.87 457.00 L540.95 457.19 L540.95 457.21 L541.03 457.41 L541.11 457.61 L541.18 457.82 L541.25 458.02 L541.33 458.23 L541.40 458.43 L541.47 458.63 L541.54 458.84 L541.60 459.04 L541.67 459.24 L541.73 459.45 L541.80 459.65 L541.86 459.85 L541.92 460.06 L541.98 460.26 L542.04 460.46 L542.10 460.67 L542.15 460.87 L542.21 461.07 L542.26 461.28 L542.32 461.48 L542.37 461.68 L542.42 461.89 L542.47 462.09 L542.51 462.29 L542.56 462.50 L542.61 462.70 L542.65 462.90 L542.69 463.11 L542.73 463.31 L542.77 463.51 L542.81 463.71 L542.85 463.92 L542.89 464.12 L542.92 464.32 L542.96 464.53 L542.99 464.73 L543.02 464.93 L543.05 465.13 L543.08 465.34 L543.11 465.54 L543.13 465.74 L543.16 465.95 L543.18 466.15 L543.21 466.35 L543.23 466.55 L543.25 466.76 L543.27 466.96 L543.29 467.16 L543.30 467.37 L543.32 467.57 L543.33 467.77 L543.35 467.97 L543.36 468.18 L543.37 468.38 L543.38 468.58 L543.38 468.78 L543.39 468.99 L543.40 469.19 L543.40 469.39 L543.40 469.59 L543.41 469.80 L543.41 470.00" stroke="#006400" stroke-width="1.8" stroke-dasharray="2.5 2.19" stroke-linejoin="round"/>
<path d="M165.05 81.96 L166.32 86.77 L167.59 91.45 L168.88 96.01 L170.19 100.45 L171.50 104.78 L172.83 109.01 L174.17 113.13 L175.52 117.16 L176.88 121.09 L178.25 124.93 L179.64 128.69 L181.03 132.37 L182.44 135.96 L183.86 139.49 L185.29 142.94 L186.73 146.32 L188.19 149.63 L189.65 152.88 L191.12 156.06 L192.61 159.19 L194.10 162.26 L195.61 165.27 L197.13 168.23 L198.66 171.13 L200.19 173.99 L201.74 176.79 L203.30 179.55 L204.87 182.27 L206.45 184.94 L208.04 187.56 L209.63 190.15 L211.24 192.70 L212.86 195.20 L214.49 197.67 L216.13 200.10 L217.78 202.50 L219.43 204.87 L221.10 207.20 L222.78 209.49 L224.46 211.76 L226.16 214.00 L227.86 216.20 L229.58 218.38 L231.30 220.53 L233.03 222.65 L234.78 224.74 L236.53 226.81 L238.29 228.86 L240.06 230.88 L241.83 232.87 L243.62 234.85 L245.42 236.80 L247.22 238.73 L249.03 240.63 L250.86 242.52 L252.69 244.38 L254.53 246.23 L256.38 248.06 L258.23 249.86 L260.10 251.65 L261.97 253.42 L263.85 255.18 L265.75 256.91 L267.64 258.63 L269.55 260.34 L271.47 262.03 L273.39 263.70 L275.32 265.36 L277.27 267.00 L279.21 268.63 L281.17 270.24 L283.14 271.84 L285.11 273.43 L287.09 275.00 L289.08 276.57 L291.08 278.11 L293.08 279.65 L295.10 281.18 L297.12 282.69 L299.15 284.19 L301.18 285.68 L303.23 287.16 L305.28 288.63 L307.34 290.09 L309.41 291.54 L311.48 292.98 L313.57 294.41 L315.66 295.84 L317.76 297.25 L319.86 298.65 L321.98 300.05 L324.10 301.43 L326.23 302.81 L328.36 304.18 L330.51 305.54 L332.66 306.90 L334.81 308.25 L336.98 309.59 L339.15 310.92 L341.33 312.25 L343.52 313.57 L345.72 314.88 L347.92 316.19 L350.13 317.49 L352.34 318.79 L354.57 320.08 L356.80 321.36 L359.04 322.64 L361.28 323.91 L363.53 325.18 L365.79 326.45 L368.06 327.71 L370.33 328.96 L372.61 330.21 L374.90 331.46 L377.19 332.70 L379.50 333.94 L381.80 335.18 L384.12 336.41 L386.44 337.64 L388.77 338.87 L391.10 340.09 L393.45 341.31 L395.80 342.53 L398.15 343.74 L400.51 344.96 L402.88 346.17 L405.26 347.38 L407.64 348.59 L410.03 349.79 L412.43 351.00 L414.83 352.20 L417.24 353.40 L419.66 354.61 L422.08 355.81 L424.51 357.01 L426.94 358.21 L429.39 359.41 L431.83 360.61 L434.29 361.81 L436.75 363.01 L439.22 364.22 L441.69 365.42 L444.17 366.63 L446.66 367.84 L449.16 369.04 L451.66 370.26 L454.16 371.47 L456.68 372.69 L459.19 373.91 L461.72 375.13 L464.25 376.35 L466.79 377.59 L469.33 378.82 L471.89 380.06 L474.44 381.30 L477.01 382.55 L479.57 383.81 L482.15 385.07 L484.73 386.34 L487.32 387.61 L489.91 388.90 L492.51 390.19 L495.12 391.49 L497.73 392.80 L500.35 394.12 L502.97 395.45 L505.61 396.79 L508.24 398.15 L510.88 399.52 L513.53 400.90 L516.19 402.30 L518.85 403.71 L521.51 405.15 L524.19 406.60 L526.87 408.07 L529.55 409.57 L532.24 411.09 L534.94 412.63 L537.64 414.21 L540.35 415.81 L543.06 417.45 L545.78 419.13 L548.51 420.85 L551.24 422.62 L553.98 424.44 L556.72 426.32 L559.47 428.27 L562.22 430.29 L562.36 430.40 L562.64 430.60 L562.91 430.81 L563.18 431.02 L563.45 431.22 L563.72 431.43 L563.99 431.64 L564.26 431.84 L564.52 432.05 L564.79 432.26 L564.98 432.41 L565.05 432.46 L565.31 432.67 L565.57 432.87 L565.83 433.08 L566.09 433.29 L566.35 433.49 L566.60 433.70 L566.86 433.90 L567.11 434.11 L567.36 434.31 L567.61 434.52 L567.75 434.63 L567.86 434.72 L568.11 434.93 L568.35 435.13 L568.60 435.34 L568.84 435.54 L569.08 435.74 L569.32 435.95 L569.56 436.15 L569.80 436.36 L570.03 436.56 L570.27 436.76 L570.50 436.97 L570.52 436.99 L570.73 437.17 L570.96 437.37 L571.19 437.58 L571.42 437.78 L571.65 437.98 L571.87 438.19 L572.10 438.39 L572.32 438.59 L572.54 438.80 L572.76 439.00 L572.98 439.20 L573.20 439.40 L573.30 439.50 L573.41 439.60 L573.63 439.81 L573.84 440.01 L574.05 440.21 L574.26 440.41 L574.47 440.61 L574.68 440.82 L574.89 441.02 L575.09 441.22 L575.30 441.42 L575.50 441.62 L575.70 441.82 L575.90 442.02 L576.08 442.21 L576.10 442.23 L576.29 442.43 L576.49 442.63 L576.68 442.83 L576.87 443.03 L577.07 443.23 L577.26 443.43 L577.44 443.63 L577.63 443.83 L577.82 444.03 L578.00 444.23 L578.18 444.43 L578.37 444.63 L578.55 444.83 L578.73 445.03 L578.87 445.20 L578.90 445.23 L579.08 445.43 L579.25 445.63 L579.43 445.83 L579.60 446.03 L579.77 446.23 L579.94 446.43 L580.11 446.63 L580.27 446.83 L580.44 447.03 L580.60 447.23 L580.76 447.42 L580.92 447.62 L581.08 447.82 L581.24 448.02 L581.40 448.22 L581.55 448.42 L581.67 448.56 L581.71 448.62 L581.86 448.82 L582.01 449.01 L582.16 449.21 L582.31 449.41 L582.46 449.61 L582.60 449.81 L582.75 450.01 L582.89 450.20 L583.03 450.40 L583.17 450.60 L583.31 450.80 L583.45 451.00 L583.58 451.19 L583.72 451.39 L583.85 451.59 L583.98 451.79 L584.11 451.98 L584.24 452.18 L584.37 452.38 L584.47 452.53 L584.49 452.58 L584.62 452.77 L584.74 452.97 L584.86 453.17 L584.99 453.36 L585.10 453.56 L585.22 453.76 L585.34 453.96 L585.45 454.15 L585.57 454.35 L585.68 454.55 L585.79 454.74 L585.90 454.94 L586.01 455.14 L586.11 455.33 L586.22 455.53 L586.32 455.73 L586.42 455.92 L586.53 456.12 L586.62 456.32 L586.72 456.51 L586.82 456.71 L586.91 456.91 L587.01 457.10 L587.10 457.30 L587.19 457.49 L587.27 457.67 L587.28 457.69 L587.37 457.89 L587.46 458.08 L587.54 458.28 L587.63 458.48 L587.71 458.67 L587.79 458.87 L587.87 459.06 L587.95 459.26 L588.02 459.45 L588.10 459.65 L588.17 459.85 L588.25 460.04 L588.32 460.24 L588.39 460.43 L588.46 460.63 L588.52 460.83 L588.59 461.02 L588.65 461.22 L588.72 461.41 L588.78 461.61 L588.84 461.80 L588.90 462.00 L588.95 462.19 L589.01 462.39 L589.06 462.58 L589.12 462.78 L589.17 462.98 L589.22 463.17 L589.27 463.37 L589.32 463.56 L589.36 463.76 L589.41 463.95 L589.45 464.15 L589.49 464.34 L589.53 464.54 L589.57 464.73 L589.61 464.93 L589.64 465.12 L589.68 465.32 L589.71 465.51 L589.74 465.71 L589.77 465.90 L589.80 466.10 L589.83 466.29 L589.86 466.49 L589.88 466.68 L589.90 466.88 L589.93 467.07 L589.95 467.27 L589.97 467.46 L589.98 467.66 L590.00 467.85 L590.01 468.05 L590.03 468.24 L590.04 468.44 L590.05 468.64 L590.06 468.83 L590.07 469.03 L590.07 469.22 L590.08 469.42 L590.08 469.61 L590.09 469.81 L590.09 470.00" stroke="#006400" stroke-width="1.8" stroke-dasharray="2.5 2.19" stroke-linejoin="round"/>
<path d="M163.11 77.58 L164.47 82.92 L165.84 88.10 L167.23 93.12 L168.63 98.00 L170.05 102.75 L171.48 107.36 L172.92 111.85 L174.38 116.22 L175.86 120.48 L177.35 124.63 L178.85 128.67 L180.36 132.62 L181.89 136.48 L183.44 140.25 L184.99 143.93 L186.56 147.53 L188.14 151.05 L189.74 154.49 L191.35 157.86 L192.97 161.16 L194.60 164.40 L196.25 167.57 L197.91 170.67 L199.58 173.72 L201.26 176.71 L202.96 179.64 L204.66 182.52 L206.38 185.35 L208.11 188.13 L209.86 190.86 L211.61 193.54 L213.38 196.18 L215.16 198.78 L216.95 201.33 L218.75 203.84 L220.56 206.31 L222.39 208.74 L224.22 211.14 L226.07 213.50 L227.93 215.83 L229.80 218.12 L231.68 220.38 L233.57 222.60 L235.47 224.80 L237.38 226.96 L239.30 229.10 L241.24 231.21 L243.18 233.29 L245.14 235.34 L247.10 237.37 L249.08 239.37 L251.07 241.35 L253.06 243.31 L255.07 245.24 L257.09 247.14 L259.12 249.03 L261.15 250.89 L263.20 252.74 L265.26 254.56 L267.33 256.36 L269.41 258.15 L271.49 259.91 L273.59 261.66 L275.70 263.39 L277.82 265.10 L279.94 266.79 L282.08 268.47 L284.23 270.13 L286.38 271.78 L288.55 273.41 L290.72 275.02 L292.91 276.62 L295.10 278.21 L297.30 279.78 L299.51 281.34 L301.74 282.89 L303.97 284.42 L306.21 285.94 L308.46 287.45 L310.71 288.94 L312.98 290.42 L315.26 291.90 L317.54 293.36 L319.84 294.81 L322.14 296.25 L324.46 297.68 L326.78 299.10 L329.11 300.51 L331.45 301.91 L333.80 303.30 L336.15 304.68 L338.52 306.05 L340.89 307.41 L343.27 308.77 L345.67 310.11 L348.07 311.45 L350.47 312.78 L352.89 314.11 L355.32 315.42 L357.75 316.73 L360.19 318.04 L362.65 319.33 L365.11 320.62 L367.57 321.90 L370.05 323.18 L372.53 324.45 L375.03 325.71 L377.53 326.97 L380.04 328.22 L382.55 329.47 L385.08 330.71 L387.61 331.95 L390.16 333.18 L392.71 334.41 L395.26 335.64 L397.83 336.86 L400.40 338.07 L402.99 339.28 L405.58 340.49 L408.17 341.69 L410.78 342.90 L413.39 344.09 L416.02 345.29 L418.65 346.48 L421.28 347.67 L423.93 348.86 L426.58 350.04 L429.24 351.22 L431.91 352.40 L434.59 353.58 L437.27 354.76 L439.96 355.93 L442.66 357.11 L445.37 358.28 L448.08 359.45 L450.80 360.63 L453.53 361.80 L456.27 362.97 L459.02 364.14 L461.77 365.31 L464.53 366.48 L467.30 367.65 L470.07 368.83 L472.85 370.00 L475.64 371.18 L478.44 372.35 L481.24 373.53 L484.05 374.71 L486.87 375.90 L489.70 377.08 L492.53 378.27 L495.37 379.46 L498.22 380.66 L501.08 381.86 L503.94 383.06 L506.81 384.27 L509.68 385.49 L512.57 386.70 L515.46 387.93 L518.36 389.16 L521.26 390.40 L524.17 391.64 L527.09 392.90 L530.02 394.16 L532.95 395.43 L535.89 396.71 L538.84 398.00 L541.80 399.30 L544.76 400.61 L547.73 401.94 L550.70 403.28 L553.68 404.63 L556.67 406.00 L559.67 407.39 L562.67 408.79 L565.68 410.22 L568.70 411.66 L571.72 413.13 L574.75 414.63 L577.79 416.15 L580.83 417.70 L583.88 419.29 L586.94 420.91 L590.00 422.57 L593.08 424.28 L596.15 426.04 L599.24 427.86 L602.33 429.74 L605.43 431.69 L605.58 431.79 L605.89 431.99 L606.20 432.19 L606.50 432.39 L606.81 432.59 L607.11 432.79 L607.41 432.99 L607.71 433.19 L608.01 433.39 L608.31 433.59 L608.53 433.74 L608.61 433.79 L608.90 433.99 L609.19 434.19 L609.49 434.39 L609.78 434.58 L610.06 434.78 L610.35 434.98 L610.64 435.18 L610.92 435.38 L611.20 435.58 L611.48 435.77 L611.64 435.88 L611.76 435.97 L612.04 436.17 L612.32 436.37 L612.59 436.56 L612.86 436.76 L613.14 436.96 L613.41 437.15 L613.68 437.35 L613.94 437.55 L614.21 437.75 L614.47 437.94 L614.74 438.14 L614.76 438.16 L615.00 438.33 L615.26 438.53 L615.51 438.73 L615.77 438.92 L616.03 439.12 L616.28 439.32 L616.53 439.51 L616.78 439.71 L617.03 439.90 L617.28 440.10 L617.52 440.29 L617.77 440.49 L617.88 440.58 L618.01 440.68 L618.25 440.88 L618.49 441.07 L618.73 441.27 L618.97 441.46 L619.20 441.66 L619.44 441.85 L619.67 442.05 L619.90 442.24 L620.13 442.44 L620.35 442.63 L620.58 442.82 L620.80 443.02 L621.01 443.20 L621.03 443.21 L621.25 443.41 L621.47 443.60 L621.69 443.79 L621.90 443.99 L622.12 444.18 L622.33 444.37 L622.54 444.57 L622.75 444.76 L622.96 444.95 L623.17 445.15 L623.38 445.34 L623.58 445.53 L623.78 445.73 L623.99 445.92 L624.15 446.08 L624.18 446.11 L624.38 446.31 L624.58 446.50 L624.77 446.69 L624.97 446.88 L625.16 447.08 L625.35 447.27 L625.54 447.46 L625.73 447.65 L625.91 447.84 L626.10 448.04 L626.28 448.23 L626.46 448.42 L626.64 448.61 L626.82 448.80 L626.99 449.00 L627.17 449.19 L627.29 449.33 L627.34 449.38 L627.51 449.57 L627.68 449.76 L627.85 449.95 L628.02 450.14 L628.18 450.34 L628.35 450.53 L628.51 450.72 L628.67 450.91 L628.83 451.10 L628.99 451.29 L629.14 451.48 L629.30 451.67 L629.45 451.86 L629.60 452.05 L629.75 452.24 L629.90 452.44 L630.04 452.63 L630.19 452.82 L630.33 453.01 L630.44 453.16 L630.47 453.20 L630.62 453.39 L630.75 453.58 L630.89 453.77 L631.03 453.96 L631.16 454.15 L631.29 454.34 L631.42 454.53 L631.55 454.72 L631.68 454.91 L631.81 455.10 L631.93 455.29 L632.05 455.48 L632.18 455.67 L632.30 455.86 L632.41 456.05 L632.53 456.24 L632.65 456.43 L632.76 456.62 L632.87 456.81 L632.98 456.99 L633.09 457.18 L633.20 457.37 L633.30 457.56 L633.41 457.75 L633.51 457.94 L633.60 458.11 L633.61 458.13 L633.71 458.32 L633.81 458.51 L633.90 458.70 L634.00 458.89 L634.09 459.08 L634.18 459.26 L634.27 459.45 L634.36 459.64 L634.45 459.83 L634.53 460.02 L634.61 460.21 L634.70 460.40 L634.78 460.59 L634.86 460.78 L634.93 460.96 L635.01 461.15 L635.08 461.34 L635.15 461.53 L635.22 461.72 L635.29 461.91 L635.36 462.10 L635.43 462.28 L635.49 462.47 L635.55 462.66 L635.62 462.85 L635.68 463.04 L635.73 463.23 L635.79 463.42 L635.84 463.60 L635.90 463.79 L635.95 463.98 L636.00 464.17 L636.05 464.36 L636.10 464.55 L636.14 464.73 L636.18 464.92 L636.23 465.11 L636.27 465.30 L636.31 465.49 L636.34 465.67 L636.38 465.86 L636.41 466.05 L636.45 466.24 L636.48 466.43 L636.51 466.62 L636.53 466.80 L636.56 466.99 L636.59 467.18 L636.61 467.37 L636.63 467.56 L636.65 467.74 L636.67 467.93 L636.68 468.12 L636.70 468.31 L636.71 468.50 L636.73 468.68 L636.74 468.87 L636.74 469.06 L636.75 469.25 L636.76 469.44 L636.76 469.62 L636.76 469.81 L636.76 470.00" stroke="#006400" stroke-width="1.8" stroke-dasharray="2.5 2.19" stroke-linejoin="round"/>
<path d="M161.41 73.96 L162.86 79.83 L164.32 85.50 L165.80 90.98 L167.30 96.29 L168.82 101.44 L170.35 106.42 L171.90 111.26 L173.46 115.96 L175.05 120.52 L176.64 124.96 L178.26 129.28 L179.89 133.48 L181.54 137.58 L183.20 141.57 L184.88 145.46 L186.57 149.25 L188.28 152.96 L190.00 156.58 L191.74 160.12 L193.49 163.57 L195.26 166.95 L197.04 170.26 L198.84 173.50 L200.65 176.67 L202.48 179.77 L204.32 182.81 L206.17 185.80 L208.04 188.72 L209.92 191.59 L211.82 194.41 L213.73 197.17 L215.65 199.89 L217.59 202.55 L219.53 205.17 L221.50 207.75 L223.47 210.28 L225.46 212.77 L227.46 215.21 L229.48 217.62 L231.51 219.99 L233.55 222.33 L235.60 224.63 L237.66 226.89 L239.74 229.12 L241.83 231.32 L243.94 233.49 L246.05 235.62 L248.18 237.73 L250.32 239.81 L252.47 241.86 L254.63 243.88 L256.81 245.88 L259.00 247.85 L261.20 249.79 L263.41 251.71 L265.63 253.61 L267.86 255.48 L270.11 257.34 L272.37 259.17 L274.64 260.98 L276.92 262.77 L279.21 264.53 L281.51 266.28 L283.83 268.01 L286.15 269.73 L288.49 271.42 L290.83 273.10 L293.19 274.76 L295.56 276.40 L297.94 278.02 L300.33 279.63 L302.74 281.23 L305.15 282.81 L307.57 284.38 L310.01 285.93 L312.45 287.46 L314.91 288.99 L317.37 290.50 L319.85 291.99 L322.34 293.48 L324.83 294.95 L327.34 296.41 L329.86 297.86 L332.39 299.30 L334.93 300.72 L337.47 302.14 L340.03 303.54 L342.60 304.94 L345.18 306.32 L347.77 307.70 L350.37 309.06 L352.98 310.42 L355.60 311.76 L358.23 313.10 L360.86 314.43 L363.51 315.75 L366.17 317.06 L368.84 318.37 L371.52 319.67 L374.20 320.96 L376.90 322.24 L379.61 323.51 L382.32 324.78 L385.05 326.04 L387.78 327.30 L390.53 328.55 L393.28 329.79 L396.05 331.03 L398.82 332.26 L401.60 333.48 L404.39 334.70 L407.19 335.92 L410.00 337.13 L412.82 338.33 L415.65 339.53 L418.49 340.73 L421.33 341.92 L424.19 343.11 L427.05 344.29 L429.93 345.47 L432.81 346.65 L435.70 347.82 L438.60 348.99 L441.51 350.15 L444.43 351.32 L447.36 352.48 L450.30 353.64 L453.24 354.79 L456.19 355.94 L459.16 357.10 L462.13 358.25 L465.11 359.39 L468.10 360.54 L471.09 361.69 L474.10 362.83 L477.11 363.97 L480.14 365.12 L483.17 366.26 L486.21 367.40 L489.26 368.54 L492.32 369.68 L495.38 370.83 L498.46 371.97 L501.54 373.11 L504.63 374.26 L507.73 375.41 L510.84 376.55 L513.95 377.70 L517.08 378.85 L520.21 380.01 L523.35 381.17 L526.50 382.32 L529.66 383.49 L532.82 384.65 L536.00 385.82 L539.18 387.00 L542.37 388.18 L545.57 389.36 L548.77 390.55 L551.99 391.75 L555.21 392.95 L558.44 394.16 L561.68 395.38 L564.92 396.60 L568.18 397.83 L571.44 399.08 L574.71 400.33 L577.99 401.59 L581.28 402.87 L584.57 404.15 L587.87 405.45 L591.18 406.76 L594.50 408.09 L597.82 409.44 L601.16 410.80 L604.50 412.18 L607.85 413.58 L611.20 415.00 L614.57 416.45 L617.94 417.93 L621.32 419.43 L624.71 420.97 L628.10 422.54 L631.50 424.15 L634.91 425.80 L638.33 427.50 L641.76 429.26 L645.19 431.08 L648.63 432.97 L648.80 433.07 L649.14 433.26 L649.49 433.46 L649.83 433.65 L650.17 433.84 L650.50 434.04 L650.84 434.23 L651.17 434.42 L651.50 434.61 L651.83 434.81 L652.08 434.95 L652.16 435.00 L652.49 435.19 L652.81 435.38 L653.14 435.58 L653.46 435.77 L653.78 435.96 L654.10 436.15 L654.42 436.34 L654.73 436.54 L655.05 436.73 L655.36 436.92 L655.53 437.03 L655.67 437.11 L655.98 437.30 L656.28 437.49 L656.59 437.68 L656.89 437.87 L657.19 438.06 L657.49 438.25 L657.79 438.44 L658.09 438.63 L658.38 438.83 L658.68 439.02 L658.97 439.21 L658.99 439.22 L659.26 439.40 L659.55 439.58 L659.83 439.77 L660.12 439.96 L660.40 440.15 L660.68 440.34 L660.96 440.53 L661.24 440.72 L661.52 440.91 L661.79 441.10 L662.07 441.29 L662.34 441.48 L662.47 441.57 L662.61 441.67 L662.88 441.86 L663.14 442.04 L663.41 442.23 L663.67 442.42 L663.93 442.61 L664.19 442.80 L664.45 442.99 L664.70 443.17 L664.96 443.36 L665.21 443.55 L665.46 443.74 L665.71 443.92 L665.94 444.10 L665.96 444.11 L666.21 444.30 L666.45 444.49 L666.69 444.67 L666.93 444.86 L667.17 445.05 L667.41 445.24 L667.64 445.42 L667.88 445.61 L668.11 445.80 L668.34 445.98 L668.57 446.17 L668.80 446.36 L669.02 446.54 L669.24 446.73 L669.43 446.88 L669.47 446.92 L669.69 447.10 L669.90 447.29 L670.12 447.47 L670.34 447.66 L670.55 447.85 L670.76 448.03 L670.97 448.22 L671.18 448.40 L671.38 448.59 L671.59 448.77 L671.79 448.96 L671.99 449.15 L672.19 449.33 L672.39 449.52 L672.59 449.70 L672.78 449.89 L672.92 450.02 L672.97 450.07 L673.16 450.26 L673.35 450.44 L673.54 450.63 L673.72 450.81 L673.91 451.00 L674.09 451.18 L674.27 451.37 L674.45 451.55 L674.63 451.74 L674.80 451.92 L674.97 452.11 L675.15 452.29 L675.32 452.47 L675.48 452.66 L675.65 452.84 L675.81 453.03 L675.98 453.21 L676.14 453.40 L676.30 453.58 L676.42 453.72 L676.45 453.76 L676.61 453.95 L676.76 454.13 L676.92 454.31 L677.07 454.50 L677.22 454.68 L677.36 454.87 L677.51 455.05 L677.65 455.23 L677.79 455.42 L677.93 455.60 L678.07 455.78 L678.21 455.97 L678.34 456.15 L678.48 456.33 L678.61 456.52 L678.74 456.70 L678.87 456.88 L678.99 457.07 L679.12 457.25 L679.24 457.43 L679.36 457.62 L679.48 457.80 L679.60 457.98 L679.71 458.16 L679.83 458.35 L679.93 458.51 L679.94 458.53 L680.05 458.71 L680.16 458.90 L680.26 459.08 L680.37 459.26 L680.47 459.44 L680.57 459.63 L680.67 459.81 L680.77 459.99 L680.87 460.17 L680.96 460.36 L681.05 460.54 L681.15 460.72 L681.23 460.90 L681.32 461.09 L681.41 461.27 L681.49 461.45 L681.57 461.63 L681.65 461.82 L681.73 462.00 L681.81 462.18 L681.88 462.36 L681.96 462.54 L682.03 462.73 L682.10 462.91 L682.17 463.09 L682.23 463.27 L682.30 463.46 L682.36 463.64 L682.42 463.82 L682.48 464.00 L682.54 464.18 L682.59 464.37 L682.65 464.55 L682.70 464.73 L682.75 464.91 L682.80 465.09 L682.85 465.27 L682.89 465.46 L682.93 465.64 L682.98 465.82 L683.02 466.00 L683.05 466.18 L683.09 466.37 L683.12 466.55 L683.16 466.73 L683.19 466.91 L683.22 467.09 L683.24 467.27 L683.27 467.46 L683.29 467.64 L683.32 467.82 L683.34 468.00 L683.35 468.18 L683.37 468.36 L683.39 468.55 L683.40 468.73 L683.41 468.91 L683.42 469.09 L683.43 469.27 L683.43 469.45 L683.44 469.64 L683.44 469.82 L683.44 470.00" stroke="#006400" stroke-width="1.8" stroke-dasharray="2.5 2.19" stroke-linejoin="round"/>
<path d="M123.30 327.65H776.80" stroke="#666666" stroke-width="2.2"/>
<path d="M123.30 417.75H776.80" stroke="#666666" stroke-width="1.2" stroke-dasharray="2.1 3.619" stroke-dashoffset="1.07"/>
<path d="M123.30 436.70H776.80" stroke="#666666" stroke-width="1.25" stroke-dasharray="4.6 2.35" stroke-dashoffset="0.9"/>
<path d="M123.30 442.26H776.80" stroke="#666666" stroke-width="1.2"/>
</g>
<text transform="translate(568.30,56.60) scale(1,1.045)" font-size="25.10" text-anchor="start">0.5 M<tspan font-size="20.08" dy="6.7" dx="0.6" letter-spacing="0.35">sun</tspan></text>
<path d="M679.1 50.10H746.3" stroke="#00ff00" stroke-width="2.0" fill="none" stroke-dasharray="4.6 2.27"/>
<text transform="translate(568.30,81.75) scale(1,1.045)" font-size="25.10" text-anchor="start">1.0 M<tspan font-size="20.08" dy="6.7" dx="0.6" letter-spacing="0.35">sun</tspan></text>
<path d="M679.1 75.25H746.3" stroke="#000000" stroke-width="2.7" fill="none"/>
<text transform="translate(568.30,106.90) scale(1,1.045)" font-size="25.10" text-anchor="start">2.0 M<tspan font-size="20.08" dy="6.7" dx="0.6" letter-spacing="0.35">sun</tspan></text>
<path d="M679.1 100.40H746.3" stroke="#0000ff" stroke-width="2.0" fill="none" stroke-dasharray="2 3.71"/>
<text transform="translate(568.30,132.05) scale(1,1.045)" font-size="25.10" text-anchor="start">3.0 M<tspan font-size="20.08" dy="6.7" dx="0.6" letter-spacing="0.35">sun</tspan></text>
<path d="M679.1 125.55H746.3" stroke="#ffa500" stroke-width="1.9" fill="none"/>
<text transform="translate(568.30,157.20) scale(1,1.045)" font-size="25.10" text-anchor="start">6.0 M<tspan font-size="20.08" dy="6.7" dx="0.6" letter-spacing="0.35">sun</tspan></text>
<path d="M679.1 150.70H746.3" stroke="#006400" stroke-width="1.6" fill="none" stroke-dasharray="2 3.71"/>
<rect x="123.30" y="30.50" width="653.50" height="439.50" fill="none" stroke="#000" stroke-width="1.5"/>
<text transform="translate(356.30,538.80) scale(1,1.045)" font-size="25.10" text-anchor="start"><tspan font-style="italic">stellar radius</tspan><tspan dx="-0.6"> [</tspan><tspan dx="0.6">R</tspan><tspan font-size="20.08" dy="5">*</tspan><tspan dy="-5">]</tspan></text>
<text transform="translate(27.00,315.70) rotate(-90) scale(1,1.045)" font-size="25.10" text-anchor="start"><tspan font-style="italic">V</tspan><tspan font-size="20.08" dy="7.3" dx="-1.3">pol</tspan><tspan dy="-7.3" dx="1.1"> [km</tspan><tspan dx="-1.8"> s</tspan><tspan font-size="20.08" dy="-10.2" dx="-2.8">-1</tspan><tspan dy="10.2" dx="0.5">]</tspan></text>
</svg></body></html>
